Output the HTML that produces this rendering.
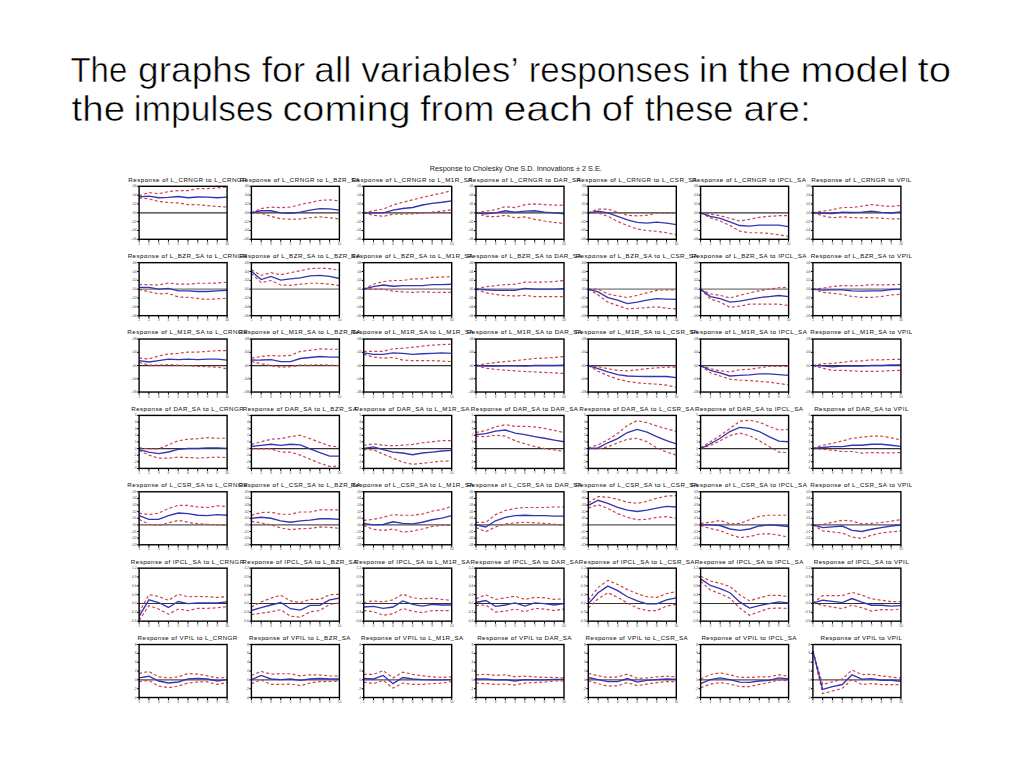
<!DOCTYPE html><html><head><meta charset="utf-8"><style>html,body{margin:0;padding:0;background:#fff;width:1024px;height:768px;overflow:hidden}svg{display:block}</style></head><body>
<svg width="1024" height="768" viewBox="0 0 1024 768">
<rect width="1024" height="768" fill="#fff"/>
<g font-family="Liberation Sans, sans-serif" fill="#000" font-size="34.5" stroke="#fff" stroke-width="0.55">
<text x="70.43" y="81.6" textLength="56.85" lengthAdjust="spacingAndGlyphs">The</text>
<text x="138.10" y="81.6" textLength="113.29" lengthAdjust="spacingAndGlyphs">graphs</text>
<text x="261.66" y="81.6" textLength="43.65" lengthAdjust="spacingAndGlyphs">for</text>
<text x="314.28" y="81.6" textLength="37.21" lengthAdjust="spacingAndGlyphs">all</text>
<text x="361.19" y="81.6" textLength="157.51" lengthAdjust="spacingAndGlyphs">variables’</text>
<text x="528.67" y="81.6" textLength="161.22" lengthAdjust="spacingAndGlyphs">responses</text>
<text x="698.73" y="81.6" textLength="29.98" lengthAdjust="spacingAndGlyphs">in</text>
<text x="737.84" y="81.6" textLength="53.28" lengthAdjust="spacingAndGlyphs">the</text>
<text x="800.56" y="81.6" textLength="107.94" lengthAdjust="spacingAndGlyphs">model</text>
<text x="917.52" y="81.6" textLength="33.50" lengthAdjust="spacingAndGlyphs">to</text>
<text x="71.64" y="121.4" textLength="53.49" lengthAdjust="spacingAndGlyphs">the</text>
<text x="133.84" y="121.4" textLength="139.41" lengthAdjust="spacingAndGlyphs">impulses</text>
<text x="282.47" y="121.4" textLength="128.18" lengthAdjust="spacingAndGlyphs">coming</text>
<text x="420.26" y="121.4" textLength="74.10" lengthAdjust="spacingAndGlyphs">from</text>
<text x="503.41" y="121.4" textLength="89.35" lengthAdjust="spacingAndGlyphs">each</text>
<text x="601.65" y="121.4" textLength="31.82" lengthAdjust="spacingAndGlyphs">of</text>
<text x="644.67" y="121.4" textLength="88.91" lengthAdjust="spacingAndGlyphs">these</text>
<text x="743.50" y="121.4" textLength="67.26" lengthAdjust="spacingAndGlyphs">are:</text>
</g>
<text x="429.8" y="171" font-family="Liberation Sans, sans-serif" font-size="7" fill="#222" textLength="172" lengthAdjust="spacingAndGlyphs">Response to Cholesky One S.D. Innovations ± 2 S.E.</text>
<text x="128.26" y="181.7" font-family="Liberation Sans, sans-serif" font-size="6.2" fill="#1a1a1a" stroke="#1a1a1a" stroke-width="0.05" textLength="118.38" lengthAdjust="spacing">Response of L_CRNGR to L_CRNGR</text>
<path d="M139.1 186.3h-2M139.1 195.13h-2M139.1 203.97h-2M139.1 212.8h-2M139.1 221.63h-2M139.1 230.47h-2M139.1 239.3h-2M139.1 239.3v2.5M148.88 239.3v2.5M158.66 239.3v2.5M168.43 239.3v2.5M178.21 239.3v2.5M187.99 239.3v2.5M197.77 239.3v2.5M207.54 239.3v2.5M217.32 239.3v2.5M227.1 239.3v2.5" stroke="#000" stroke-width="1" fill="none"/>
<g font-family="Liberation Sans, sans-serif" font-size="3.4" fill="#4a4a4a">
<text x="136.6" y="187.3" text-anchor="end">.06</text>
<text x="136.6" y="196.13" text-anchor="end">.04</text>
<text x="136.6" y="204.97" text-anchor="end">.02</text>
<text x="136.6" y="213.8" text-anchor="end">.00</text>
<text x="136.6" y="222.63" text-anchor="end">-.02</text>
<text x="136.6" y="231.47" text-anchor="end">-.04</text>
<text x="136.6" y="240.3" text-anchor="end">-.06</text>
<text x="139.1" y="244.8" text-anchor="middle">1</text>
<text x="148.88" y="244.8" text-anchor="middle">2</text>
<text x="158.66" y="244.8" text-anchor="middle">3</text>
<text x="168.43" y="244.8" text-anchor="middle">4</text>
<text x="178.21" y="244.8" text-anchor="middle">5</text>
<text x="187.99" y="244.8" text-anchor="middle">6</text>
<text x="197.77" y="244.8" text-anchor="middle">7</text>
<text x="207.54" y="244.8" text-anchor="middle">8</text>
<text x="217.32" y="244.8" text-anchor="middle">9</text>
<text x="227.1" y="244.8" text-anchor="middle">10</text>
</g>
<path d="M139.1 212.8H227.1" stroke="#333" stroke-width="1.2"/>
<path d="M139.1 195.75 L148.88 192.66 L158.66 193.72 L168.43 191.6 L178.21 190.63 L187.99 190.63 L197.77 188.6 L207.54 188.6 L217.32 187.98 L227.1 187.09" stroke="#cc4450" stroke-width="1.2" fill="none" stroke-dasharray="3 2.3"/>
<path d="M139.1 197.78 L148.88 198.84 L158.66 201.49 L168.43 202.55 L178.21 202.91 L187.99 204.59 L197.77 204.76 L207.54 205.65 L217.32 206.44 L227.1 207.06" stroke="#cc4450" stroke-width="1.2" fill="none" stroke-dasharray="3 2.3"/>
<path d="M139.1 196.81 L148.88 196.19 L158.66 197.78 L168.43 197.43 L178.21 196.55 L187.99 197.78 L197.77 196.99 L207.54 197.17 L217.32 197.78 L227.1 197.17" stroke="#3434b4" stroke-width="1.35" fill="none"/>
<rect x="139.1" y="186.3" width="88" height="53" fill="none" stroke="#000" stroke-width="1.4"/>
<text x="239.77" y="181.7" font-family="Liberation Sans, sans-serif" font-size="6.2" fill="#1a1a1a" stroke="#1a1a1a" stroke-width="0.05" textLength="119.95" lengthAdjust="spacing">Response of L_CRNGR to L_BZR_SA</text>
<path d="M251.4 186.3h-2M251.4 195.13h-2M251.4 203.97h-2M251.4 212.8h-2M251.4 221.63h-2M251.4 230.47h-2M251.4 239.3h-2M251.4 239.3v2.5M261.18 239.3v2.5M270.96 239.3v2.5M280.73 239.3v2.5M290.51 239.3v2.5M300.29 239.3v2.5M310.07 239.3v2.5M319.84 239.3v2.5M329.62 239.3v2.5M339.4 239.3v2.5" stroke="#000" stroke-width="1" fill="none"/>
<g font-family="Liberation Sans, sans-serif" font-size="3.4" fill="#4a4a4a">
<text x="248.9" y="187.3" text-anchor="end">.06</text>
<text x="248.9" y="196.13" text-anchor="end">.04</text>
<text x="248.9" y="204.97" text-anchor="end">.02</text>
<text x="248.9" y="213.8" text-anchor="end">.00</text>
<text x="248.9" y="222.63" text-anchor="end">-.02</text>
<text x="248.9" y="231.47" text-anchor="end">-.04</text>
<text x="248.9" y="240.3" text-anchor="end">-.06</text>
<text x="251.4" y="244.8" text-anchor="middle">1</text>
<text x="261.18" y="244.8" text-anchor="middle">2</text>
<text x="270.96" y="244.8" text-anchor="middle">3</text>
<text x="280.73" y="244.8" text-anchor="middle">4</text>
<text x="290.51" y="244.8" text-anchor="middle">5</text>
<text x="300.29" y="244.8" text-anchor="middle">6</text>
<text x="310.07" y="244.8" text-anchor="middle">7</text>
<text x="319.84" y="244.8" text-anchor="middle">8</text>
<text x="329.62" y="244.8" text-anchor="middle">9</text>
<text x="339.4" y="244.8" text-anchor="middle">10</text>
</g>
<path d="M251.4 212.8H339.4" stroke="#333" stroke-width="1.2"/>
<path d="M251.4 212.8 L261.18 208.47 L270.96 207.06 L280.73 207.68 L290.51 207.06 L300.29 204.59 L310.07 202.55 L319.84 200.43 L329.62 199.81 L339.4 200.88" stroke="#cc4450" stroke-width="1.2" fill="none" stroke-dasharray="3 2.3"/>
<path d="M251.4 212.8 L261.18 213.24 L270.96 216.33 L280.73 218.72 L290.51 219.34 L300.29 218.98 L310.07 217.75 L319.84 216.95 L329.62 217.75 L339.4 218.98" stroke="#cc4450" stroke-width="1.2" fill="none" stroke-dasharray="3 2.3"/>
<path d="M251.4 212.8 L261.18 210.77 L270.96 210.77 L280.73 212.8 L290.51 213.24 L300.29 212.18 L310.07 210.15 L319.84 208.65 L329.62 208.91 L339.4 210.15" stroke="#3434b4" stroke-width="1.35" fill="none"/>
<rect x="251.4" y="186.3" width="88" height="53" fill="none" stroke="#000" stroke-width="1.4"/>
<text x="351.68" y="181.7" font-family="Liberation Sans, sans-serif" font-size="6.2" fill="#1a1a1a" stroke="#1a1a1a" stroke-width="0.05" textLength="120.73" lengthAdjust="spacing">Response of L_CRNGR to L_M1R_SA</text>
<path d="M363.7 186.3h-2M363.7 195.13h-2M363.7 203.97h-2M363.7 212.8h-2M363.7 221.63h-2M363.7 230.47h-2M363.7 239.3h-2M363.7 239.3v2.5M373.48 239.3v2.5M383.26 239.3v2.5M393.03 239.3v2.5M402.81 239.3v2.5M412.59 239.3v2.5M422.37 239.3v2.5M432.14 239.3v2.5M441.92 239.3v2.5M451.7 239.3v2.5" stroke="#000" stroke-width="1" fill="none"/>
<g font-family="Liberation Sans, sans-serif" font-size="3.4" fill="#4a4a4a">
<text x="361.2" y="187.3" text-anchor="end">.06</text>
<text x="361.2" y="196.13" text-anchor="end">.04</text>
<text x="361.2" y="204.97" text-anchor="end">.02</text>
<text x="361.2" y="213.8" text-anchor="end">.00</text>
<text x="361.2" y="222.63" text-anchor="end">-.02</text>
<text x="361.2" y="231.47" text-anchor="end">-.04</text>
<text x="361.2" y="240.3" text-anchor="end">-.06</text>
<text x="363.7" y="244.8" text-anchor="middle">1</text>
<text x="373.48" y="244.8" text-anchor="middle">2</text>
<text x="383.26" y="244.8" text-anchor="middle">3</text>
<text x="393.03" y="244.8" text-anchor="middle">4</text>
<text x="402.81" y="244.8" text-anchor="middle">5</text>
<text x="412.59" y="244.8" text-anchor="middle">6</text>
<text x="422.37" y="244.8" text-anchor="middle">7</text>
<text x="432.14" y="244.8" text-anchor="middle">8</text>
<text x="441.92" y="244.8" text-anchor="middle">9</text>
<text x="451.7" y="244.8" text-anchor="middle">10</text>
</g>
<path d="M363.7 212.8H451.7" stroke="#333" stroke-width="1.2"/>
<path d="M363.7 212.8 L373.48 210.77 L383.26 209.09 L393.03 205.03 L402.81 202.29 L412.59 199.81 L422.37 197.43 L432.14 195.13 L441.92 193.1 L451.7 190.63" stroke="#cc4450" stroke-width="1.2" fill="none" stroke-dasharray="3 2.3"/>
<path d="M363.7 212.8 L373.48 215.27 L383.26 216.33 L393.03 214.21 L402.81 214.21 L412.59 213.86 L422.37 213.24 L432.14 212.18 L441.92 211.12 L451.7 209.71" stroke="#cc4450" stroke-width="1.2" fill="none" stroke-dasharray="3 2.3"/>
<path d="M363.7 212.8 L373.48 212.8 L383.26 212.8 L393.03 210.15 L402.81 208.47 L412.59 207.5 L422.37 205.03 L432.14 203.35 L441.92 202.29 L451.7 200.88" stroke="#3434b4" stroke-width="1.35" fill="none"/>
<rect x="363.7" y="186.3" width="88" height="53" fill="none" stroke="#000" stroke-width="1.4"/>
<text x="467.89" y="181.7" font-family="Liberation Sans, sans-serif" font-size="6.2" fill="#1a1a1a" stroke="#1a1a1a" stroke-width="0.05" textLength="112.92" lengthAdjust="spacing">Response of L_CRNGR to DAR_SA</text>
<path d="M476 186.3h-2M476 195.13h-2M476 203.97h-2M476 212.8h-2M476 221.63h-2M476 230.47h-2M476 239.3h-2M476 239.3v2.5M485.78 239.3v2.5M495.56 239.3v2.5M505.33 239.3v2.5M515.11 239.3v2.5M524.89 239.3v2.5M534.67 239.3v2.5M544.44 239.3v2.5M554.22 239.3v2.5M564 239.3v2.5" stroke="#000" stroke-width="1" fill="none"/>
<g font-family="Liberation Sans, sans-serif" font-size="3.4" fill="#4a4a4a">
<text x="473.5" y="187.3" text-anchor="end">.06</text>
<text x="473.5" y="196.13" text-anchor="end">.04</text>
<text x="473.5" y="204.97" text-anchor="end">.02</text>
<text x="473.5" y="213.8" text-anchor="end">.00</text>
<text x="473.5" y="222.63" text-anchor="end">-.02</text>
<text x="473.5" y="231.47" text-anchor="end">-.04</text>
<text x="473.5" y="240.3" text-anchor="end">-.06</text>
<text x="476" y="244.8" text-anchor="middle">1</text>
<text x="485.78" y="244.8" text-anchor="middle">2</text>
<text x="495.56" y="244.8" text-anchor="middle">3</text>
<text x="505.33" y="244.8" text-anchor="middle">4</text>
<text x="515.11" y="244.8" text-anchor="middle">5</text>
<text x="524.89" y="244.8" text-anchor="middle">6</text>
<text x="534.67" y="244.8" text-anchor="middle">7</text>
<text x="544.44" y="244.8" text-anchor="middle">8</text>
<text x="554.22" y="244.8" text-anchor="middle">9</text>
<text x="564" y="244.8" text-anchor="middle">10</text>
</g>
<path d="M476 212.8H564" stroke="#333" stroke-width="1.2"/>
<path d="M476 212.8 L485.78 211.12 L495.56 209.71 L505.33 206.62 L515.11 207.68 L524.89 204.59 L534.67 203.97 L544.44 204.59 L554.22 205.03 L564 205.03" stroke="#cc4450" stroke-width="1.2" fill="none" stroke-dasharray="3 2.3"/>
<path d="M476 212.8 L485.78 216.33 L495.56 216.69 L505.33 215.27 L515.11 217.75 L524.89 216.95 L534.67 219.34 L544.44 221.02 L554.22 222.43 L564 223.49" stroke="#cc4450" stroke-width="1.2" fill="none" stroke-dasharray="3 2.3"/>
<path d="M476 212.8 L485.78 213.86 L495.56 212.8 L505.33 210.77 L515.11 212.18 L524.89 211.12 L534.67 210.77 L544.44 212.18 L554.22 212.8 L564 213.86" stroke="#3434b4" stroke-width="1.35" fill="none"/>
<rect x="476" y="186.3" width="88" height="53" fill="none" stroke="#000" stroke-width="1.4"/>
<text x="576.28" y="181.7" font-family="Liberation Sans, sans-serif" font-size="6.2" fill="#1a1a1a" stroke="#1a1a1a" stroke-width="0.05" textLength="120.73" lengthAdjust="spacing">Response of L_CRNGR to L_CSR_SA</text>
<path d="M588.3 186.3h-2M588.3 195.13h-2M588.3 203.97h-2M588.3 212.8h-2M588.3 221.63h-2M588.3 230.47h-2M588.3 239.3h-2M588.3 239.3v2.5M598.08 239.3v2.5M607.86 239.3v2.5M617.63 239.3v2.5M627.41 239.3v2.5M637.19 239.3v2.5M646.97 239.3v2.5M656.74 239.3v2.5M666.52 239.3v2.5M676.3 239.3v2.5" stroke="#000" stroke-width="1" fill="none"/>
<g font-family="Liberation Sans, sans-serif" font-size="3.4" fill="#4a4a4a">
<text x="585.8" y="187.3" text-anchor="end">.06</text>
<text x="585.8" y="196.13" text-anchor="end">.04</text>
<text x="585.8" y="204.97" text-anchor="end">.02</text>
<text x="585.8" y="213.8" text-anchor="end">.00</text>
<text x="585.8" y="222.63" text-anchor="end">-.02</text>
<text x="585.8" y="231.47" text-anchor="end">-.04</text>
<text x="585.8" y="240.3" text-anchor="end">-.06</text>
<text x="588.3" y="244.8" text-anchor="middle">1</text>
<text x="598.08" y="244.8" text-anchor="middle">2</text>
<text x="607.86" y="244.8" text-anchor="middle">3</text>
<text x="617.63" y="244.8" text-anchor="middle">4</text>
<text x="627.41" y="244.8" text-anchor="middle">5</text>
<text x="637.19" y="244.8" text-anchor="middle">6</text>
<text x="646.97" y="244.8" text-anchor="middle">7</text>
<text x="656.74" y="244.8" text-anchor="middle">8</text>
<text x="666.52" y="244.8" text-anchor="middle">9</text>
<text x="676.3" y="244.8" text-anchor="middle">10</text>
</g>
<path d="M588.3 212.8H676.3" stroke="#333" stroke-width="1.2"/>
<path d="M588.3 212.8 L598.08 209.09 L607.86 209.09 L617.63 212.18 L627.41 215.27 L637.19 215.89 L646.97 215.27 L656.74 213.24 L666.52 213.24 L676.3 213.24" stroke="#cc4450" stroke-width="1.2" fill="none" stroke-dasharray="3 2.3"/>
<path d="M588.3 212.8 L598.08 212.8 L607.86 216.33 L617.63 221.46 L627.41 225.52 L637.19 229.05 L646.97 230.64 L656.74 231.26 L666.52 232.76 L676.3 234.8" stroke="#cc4450" stroke-width="1.2" fill="none" stroke-dasharray="3 2.3"/>
<path d="M588.3 212.8 L598.08 211.12 L607.86 212.8 L617.63 216.33 L627.41 219.96 L637.19 222.43 L646.97 223.05 L656.74 222.08 L666.52 223.05 L676.3 224.55" stroke="#3434b4" stroke-width="1.35" fill="none"/>
<rect x="588.3" y="186.3" width="88" height="53" fill="none" stroke="#000" stroke-width="1.4"/>
<text x="692.1" y="181.7" font-family="Liberation Sans, sans-serif" font-size="6.2" fill="#1a1a1a" stroke="#1a1a1a" stroke-width="0.05" textLength="113.7" lengthAdjust="spacing">Response of L_CRNGR to IPCL_SA</text>
<path d="M700.6 186.3h-2M700.6 195.13h-2M700.6 203.97h-2M700.6 212.8h-2M700.6 221.63h-2M700.6 230.47h-2M700.6 239.3h-2M700.6 239.3v2.5M710.38 239.3v2.5M720.16 239.3v2.5M729.93 239.3v2.5M739.71 239.3v2.5M749.49 239.3v2.5M759.27 239.3v2.5M769.04 239.3v2.5M778.82 239.3v2.5M788.6 239.3v2.5" stroke="#000" stroke-width="1" fill="none"/>
<g font-family="Liberation Sans, sans-serif" font-size="3.4" fill="#4a4a4a">
<text x="698.1" y="187.3" text-anchor="end">.06</text>
<text x="698.1" y="196.13" text-anchor="end">.04</text>
<text x="698.1" y="204.97" text-anchor="end">.02</text>
<text x="698.1" y="213.8" text-anchor="end">.00</text>
<text x="698.1" y="222.63" text-anchor="end">-.02</text>
<text x="698.1" y="231.47" text-anchor="end">-.04</text>
<text x="698.1" y="240.3" text-anchor="end">-.06</text>
<text x="700.6" y="244.8" text-anchor="middle">1</text>
<text x="710.38" y="244.8" text-anchor="middle">2</text>
<text x="720.16" y="244.8" text-anchor="middle">3</text>
<text x="729.93" y="244.8" text-anchor="middle">4</text>
<text x="739.71" y="244.8" text-anchor="middle">5</text>
<text x="749.49" y="244.8" text-anchor="middle">6</text>
<text x="759.27" y="244.8" text-anchor="middle">7</text>
<text x="769.04" y="244.8" text-anchor="middle">8</text>
<text x="778.82" y="244.8" text-anchor="middle">9</text>
<text x="788.6" y="244.8" text-anchor="middle">10</text>
</g>
<path d="M700.6 212.8H788.6" stroke="#333" stroke-width="1.2"/>
<path d="M700.6 212.8 L710.38 214.21 L720.16 215.72 L729.93 218.37 L739.71 221.02 L749.49 219.34 L759.27 217.31 L769.04 216.33 L778.82 215.72 L788.6 215.72" stroke="#cc4450" stroke-width="1.2" fill="none" stroke-dasharray="3 2.3"/>
<path d="M700.6 212.8 L710.38 217.92 L720.16 221.02 L729.93 225.52 L739.71 231.09 L749.49 232.76 L759.27 232.76 L769.04 233.38 L778.82 234.8 L788.6 236.39" stroke="#cc4450" stroke-width="1.2" fill="none" stroke-dasharray="3 2.3"/>
<path d="M700.6 212.8 L710.38 216.33 L720.16 218.37 L729.93 221.81 L739.71 225.52 L749.49 226.14 L759.27 225.17 L769.04 225.17 L778.82 225.17 L788.6 226.58" stroke="#3434b4" stroke-width="1.35" fill="none"/>
<rect x="700.6" y="186.3" width="88" height="53" fill="none" stroke="#000" stroke-width="1.4"/>
<text x="811.24" y="181.7" font-family="Liberation Sans, sans-serif" font-size="6.2" fill="#1a1a1a" stroke="#1a1a1a" stroke-width="0.05" textLength="100.03" lengthAdjust="spacing">Response of L_CRNGR to VPIL</text>
<path d="M812.9 186.3h-2M812.9 195.13h-2M812.9 203.97h-2M812.9 212.8h-2M812.9 221.63h-2M812.9 230.47h-2M812.9 239.3h-2M812.9 239.3v2.5M822.68 239.3v2.5M832.46 239.3v2.5M842.23 239.3v2.5M852.01 239.3v2.5M861.79 239.3v2.5M871.57 239.3v2.5M881.34 239.3v2.5M891.12 239.3v2.5M900.9 239.3v2.5" stroke="#000" stroke-width="1" fill="none"/>
<g font-family="Liberation Sans, sans-serif" font-size="3.4" fill="#4a4a4a">
<text x="810.4" y="187.3" text-anchor="end">.06</text>
<text x="810.4" y="196.13" text-anchor="end">.04</text>
<text x="810.4" y="204.97" text-anchor="end">.02</text>
<text x="810.4" y="213.8" text-anchor="end">.00</text>
<text x="810.4" y="222.63" text-anchor="end">-.02</text>
<text x="810.4" y="231.47" text-anchor="end">-.04</text>
<text x="810.4" y="240.3" text-anchor="end">-.06</text>
<text x="812.9" y="244.8" text-anchor="middle">1</text>
<text x="822.68" y="244.8" text-anchor="middle">2</text>
<text x="832.46" y="244.8" text-anchor="middle">3</text>
<text x="842.23" y="244.8" text-anchor="middle">4</text>
<text x="852.01" y="244.8" text-anchor="middle">5</text>
<text x="861.79" y="244.8" text-anchor="middle">6</text>
<text x="871.57" y="244.8" text-anchor="middle">7</text>
<text x="881.34" y="244.8" text-anchor="middle">8</text>
<text x="891.12" y="244.8" text-anchor="middle">9</text>
<text x="900.9" y="244.8" text-anchor="middle">10</text>
</g>
<path d="M812.9 212.8H900.9" stroke="#333" stroke-width="1.2"/>
<path d="M812.9 212.71 L822.68 211.12 L832.46 209.71 L842.23 207.5 L852.01 207.5 L861.79 206.18 L871.57 204.59 L881.34 205.65 L891.12 206.44 L900.9 205.38" stroke="#cc4450" stroke-width="1.2" fill="none" stroke-dasharray="3 2.3"/>
<path d="M812.9 212.71 L822.68 215.72 L832.46 217.84 L842.23 216.78 L852.01 217.66 L861.79 217.84 L871.57 217.66 L881.34 218.1 L891.12 218.9 L900.9 218.72" stroke="#cc4450" stroke-width="1.2" fill="none" stroke-dasharray="3 2.3"/>
<path d="M812.9 212.71 L822.68 213.24 L832.46 213.51 L842.23 212.18 L852.01 212.45 L861.79 212.18 L871.57 211.12 L881.34 212.45 L891.12 212.98 L900.9 211.83" stroke="#3434b4" stroke-width="1.35" fill="none"/>
<rect x="812.9" y="186.3" width="88" height="53" fill="none" stroke="#000" stroke-width="1.4"/>
<text x="127.67" y="258.07" font-family="Liberation Sans, sans-serif" font-size="6.2" fill="#1a1a1a" stroke="#1a1a1a" stroke-width="0.05" textLength="119.56" lengthAdjust="spacing">Response of L_BZR_SA to L_CRNGR</text>
<path d="M139.1 262.67h-2M139.1 271.5h-2M139.1 280.34h-2M139.1 289.17h-2M139.1 298h-2M139.1 306.84h-2M139.1 315.67h-2M139.1 315.67v2.5M148.88 315.67v2.5M158.66 315.67v2.5M168.43 315.67v2.5M178.21 315.67v2.5M187.99 315.67v2.5M197.77 315.67v2.5M207.54 315.67v2.5M217.32 315.67v2.5M227.1 315.67v2.5" stroke="#000" stroke-width="1" fill="none"/>
<g font-family="Liberation Sans, sans-serif" font-size="3.4" fill="#4a4a4a">
<text x="136.6" y="263.67" text-anchor="end">.06</text>
<text x="136.6" y="272.5" text-anchor="end">.04</text>
<text x="136.6" y="281.34" text-anchor="end">.02</text>
<text x="136.6" y="290.17" text-anchor="end">.00</text>
<text x="136.6" y="299" text-anchor="end">-.02</text>
<text x="136.6" y="307.84" text-anchor="end">-.04</text>
<text x="136.6" y="316.67" text-anchor="end">-.06</text>
<text x="139.1" y="321.17" text-anchor="middle">1</text>
<text x="148.88" y="321.17" text-anchor="middle">2</text>
<text x="158.66" y="321.17" text-anchor="middle">3</text>
<text x="168.43" y="321.17" text-anchor="middle">4</text>
<text x="178.21" y="321.17" text-anchor="middle">5</text>
<text x="187.99" y="321.17" text-anchor="middle">6</text>
<text x="197.77" y="321.17" text-anchor="middle">7</text>
<text x="207.54" y="321.17" text-anchor="middle">8</text>
<text x="217.32" y="321.17" text-anchor="middle">9</text>
<text x="227.1" y="321.17" text-anchor="middle">10</text>
</g>
<path d="M139.1 289.17H227.1" stroke="#9c9c9c" stroke-width="1.9"/>
<path d="M139.1 284.67 L148.88 284.67 L158.66 285.02 L168.43 282.99 L178.21 284.22 L187.99 284.22 L197.77 283.25 L207.54 283.25 L217.32 282.99 L227.1 282.19" stroke="#cc4450" stroke-width="1.2" fill="none" stroke-dasharray="3 2.3"/>
<path d="M139.1 289.35 L148.88 291.82 L158.66 293.85 L168.43 293.32 L178.21 296.94 L187.99 297.38 L197.77 298.44 L207.54 299.42 L217.32 298.62 L227.1 298.44" stroke="#cc4450" stroke-width="1.2" fill="none" stroke-dasharray="3 2.3"/>
<path d="M139.1 287.31 L148.88 287.31 L158.66 289.17 L168.43 288.38 L178.21 290.85 L187.99 290.85 L197.77 291.47 L207.54 291.47 L217.32 290.85 L227.1 290.23" stroke="#3434b4" stroke-width="1.35" fill="none"/>
<rect x="139.1" y="262.67" width="88" height="53" fill="none" stroke="#000" stroke-width="1.4"/>
<text x="239.18" y="258.07" font-family="Liberation Sans, sans-serif" font-size="6.2" fill="#1a1a1a" stroke="#1a1a1a" stroke-width="0.05" textLength="121.14" lengthAdjust="spacing">Response of L_BZR_SA to L_BZR_SA</text>
<path d="M251.4 262.67h-2M251.4 271.5h-2M251.4 280.34h-2M251.4 289.17h-2M251.4 298h-2M251.4 306.84h-2M251.4 315.67h-2M251.4 315.67v2.5M261.18 315.67v2.5M270.96 315.67v2.5M280.73 315.67v2.5M290.51 315.67v2.5M300.29 315.67v2.5M310.07 315.67v2.5M319.84 315.67v2.5M329.62 315.67v2.5M339.4 315.67v2.5" stroke="#000" stroke-width="1" fill="none"/>
<g font-family="Liberation Sans, sans-serif" font-size="3.4" fill="#4a4a4a">
<text x="248.9" y="263.67" text-anchor="end">.06</text>
<text x="248.9" y="272.5" text-anchor="end">.04</text>
<text x="248.9" y="281.34" text-anchor="end">.02</text>
<text x="248.9" y="290.17" text-anchor="end">.00</text>
<text x="248.9" y="299" text-anchor="end">-.02</text>
<text x="248.9" y="307.84" text-anchor="end">-.04</text>
<text x="248.9" y="316.67" text-anchor="end">-.06</text>
<text x="251.4" y="321.17" text-anchor="middle">1</text>
<text x="261.18" y="321.17" text-anchor="middle">2</text>
<text x="270.96" y="321.17" text-anchor="middle">3</text>
<text x="280.73" y="321.17" text-anchor="middle">4</text>
<text x="290.51" y="321.17" text-anchor="middle">5</text>
<text x="300.29" y="321.17" text-anchor="middle">6</text>
<text x="310.07" y="321.17" text-anchor="middle">7</text>
<text x="319.84" y="321.17" text-anchor="middle">8</text>
<text x="329.62" y="321.17" text-anchor="middle">9</text>
<text x="339.4" y="321.17" text-anchor="middle">10</text>
</g>
<path d="M251.4 289.17H339.4" stroke="#9c9c9c" stroke-width="1.9"/>
<path d="M251.4 269.82 L261.18 275.39 L270.96 272.74 L280.73 274.77 L290.51 272.74 L300.29 270.71 L310.07 268.59 L319.84 268.24 L329.62 268.59 L339.4 270.27" stroke="#cc4450" stroke-width="1.2" fill="none" stroke-dasharray="3 2.3"/>
<path d="M251.4 273.36 L261.18 282.63 L270.96 280.51 L280.73 285.02 L290.51 285.28 L300.29 284.22 L310.07 283.25 L319.84 283.25 L329.62 284.22 L339.4 285.64" stroke="#cc4450" stroke-width="1.2" fill="none" stroke-dasharray="3 2.3"/>
<path d="M251.4 271.33 L261.18 279.54 L270.96 276.45 L280.73 280.16 L290.51 278.92 L300.29 277.86 L310.07 275.83 L319.84 275.39 L329.62 276.45 L339.4 278.48" stroke="#3434b4" stroke-width="1.35" fill="none"/>
<rect x="251.4" y="262.67" width="88" height="53" fill="none" stroke="#000" stroke-width="1.4"/>
<text x="351.09" y="258.07" font-family="Liberation Sans, sans-serif" font-size="6.2" fill="#1a1a1a" stroke="#1a1a1a" stroke-width="0.05" textLength="121.92" lengthAdjust="spacing">Response of L_BZR_SA to L_M1R_SA</text>
<path d="M363.7 262.67h-2M363.7 271.5h-2M363.7 280.34h-2M363.7 289.17h-2M363.7 298h-2M363.7 306.84h-2M363.7 315.67h-2M363.7 315.67v2.5M373.48 315.67v2.5M383.26 315.67v2.5M393.03 315.67v2.5M402.81 315.67v2.5M412.59 315.67v2.5M422.37 315.67v2.5M432.14 315.67v2.5M441.92 315.67v2.5M451.7 315.67v2.5" stroke="#000" stroke-width="1" fill="none"/>
<g font-family="Liberation Sans, sans-serif" font-size="3.4" fill="#4a4a4a">
<text x="361.2" y="263.67" text-anchor="end">.06</text>
<text x="361.2" y="272.5" text-anchor="end">.04</text>
<text x="361.2" y="281.34" text-anchor="end">.02</text>
<text x="361.2" y="290.17" text-anchor="end">.00</text>
<text x="361.2" y="299" text-anchor="end">-.02</text>
<text x="361.2" y="307.84" text-anchor="end">-.04</text>
<text x="361.2" y="316.67" text-anchor="end">-.06</text>
<text x="363.7" y="321.17" text-anchor="middle">1</text>
<text x="373.48" y="321.17" text-anchor="middle">2</text>
<text x="383.26" y="321.17" text-anchor="middle">3</text>
<text x="393.03" y="321.17" text-anchor="middle">4</text>
<text x="402.81" y="321.17" text-anchor="middle">5</text>
<text x="412.59" y="321.17" text-anchor="middle">6</text>
<text x="422.37" y="321.17" text-anchor="middle">7</text>
<text x="432.14" y="321.17" text-anchor="middle">8</text>
<text x="441.92" y="321.17" text-anchor="middle">9</text>
<text x="451.7" y="321.17" text-anchor="middle">10</text>
</g>
<path d="M363.7 289.17H451.7" stroke="#9c9c9c" stroke-width="1.9"/>
<path d="M363.7 289.17 L373.48 284.22 L383.26 281.57 L393.03 280.51 L402.81 280.51 L412.59 278.92 L422.37 278.92 L432.14 277.42 L441.92 277.07 L451.7 276.45" stroke="#cc4450" stroke-width="1.2" fill="none" stroke-dasharray="3 2.3"/>
<path d="M363.7 289.17 L373.48 289.17 L383.26 289.17 L393.03 291.2 L402.81 291.82 L412.59 292.44 L422.37 291.82 L432.14 292.26 L441.92 292.44 L451.7 292.44" stroke="#cc4450" stroke-width="1.2" fill="none" stroke-dasharray="3 2.3"/>
<path d="M363.7 289.17 L373.48 286.7 L383.26 285.02 L393.03 286.25 L402.81 285.64 L412.59 285.64 L422.37 285.64 L432.14 284.67 L441.92 284.67 L451.7 284.22" stroke="#3434b4" stroke-width="1.35" fill="none"/>
<rect x="363.7" y="262.67" width="88" height="53" fill="none" stroke="#000" stroke-width="1.4"/>
<text x="467.3" y="258.07" font-family="Liberation Sans, sans-serif" font-size="6.2" fill="#1a1a1a" stroke="#1a1a1a" stroke-width="0.05" textLength="114.1" lengthAdjust="spacing">Response of L_BZR_SA to DAR_SA</text>
<path d="M476 262.67h-2M476 271.5h-2M476 280.34h-2M476 289.17h-2M476 298h-2M476 306.84h-2M476 315.67h-2M476 315.67v2.5M485.78 315.67v2.5M495.56 315.67v2.5M505.33 315.67v2.5M515.11 315.67v2.5M524.89 315.67v2.5M534.67 315.67v2.5M544.44 315.67v2.5M554.22 315.67v2.5M564 315.67v2.5" stroke="#000" stroke-width="1" fill="none"/>
<g font-family="Liberation Sans, sans-serif" font-size="3.4" fill="#4a4a4a">
<text x="473.5" y="263.67" text-anchor="end">.06</text>
<text x="473.5" y="272.5" text-anchor="end">.04</text>
<text x="473.5" y="281.34" text-anchor="end">.02</text>
<text x="473.5" y="290.17" text-anchor="end">.00</text>
<text x="473.5" y="299" text-anchor="end">-.02</text>
<text x="473.5" y="307.84" text-anchor="end">-.04</text>
<text x="473.5" y="316.67" text-anchor="end">-.06</text>
<text x="476" y="321.17" text-anchor="middle">1</text>
<text x="485.78" y="321.17" text-anchor="middle">2</text>
<text x="495.56" y="321.17" text-anchor="middle">3</text>
<text x="505.33" y="321.17" text-anchor="middle">4</text>
<text x="515.11" y="321.17" text-anchor="middle">5</text>
<text x="524.89" y="321.17" text-anchor="middle">6</text>
<text x="534.67" y="321.17" text-anchor="middle">7</text>
<text x="544.44" y="321.17" text-anchor="middle">8</text>
<text x="554.22" y="321.17" text-anchor="middle">9</text>
<text x="564" y="321.17" text-anchor="middle">10</text>
</g>
<path d="M476 289.17H564" stroke="#9c9c9c" stroke-width="1.9"/>
<path d="M476 289.17 L485.78 286.7 L495.56 285.64 L505.33 284.67 L515.11 284.22 L524.89 282.19 L534.67 282.19 L544.44 282.01 L554.22 281.57 L564 280.51" stroke="#cc4450" stroke-width="1.2" fill="none" stroke-dasharray="3 2.3"/>
<path d="M476 289.17 L485.78 292.88 L495.56 294.47 L505.33 295.53 L515.11 295.97 L524.89 295.35 L534.67 296.59 L544.44 296.59 L554.22 296.59 L564 296.59" stroke="#cc4450" stroke-width="1.2" fill="none" stroke-dasharray="3 2.3"/>
<path d="M476 289.17 L485.78 289.79 L495.56 290.41 L505.33 290.41 L515.11 290.41 L524.89 288.38 L534.67 289.17 L544.44 289.17 L554.22 289.17 L564 288.73" stroke="#3434b4" stroke-width="1.35" fill="none"/>
<rect x="476" y="262.67" width="88" height="53" fill="none" stroke="#000" stroke-width="1.4"/>
<text x="575.69" y="258.07" font-family="Liberation Sans, sans-serif" font-size="6.2" fill="#1a1a1a" stroke="#1a1a1a" stroke-width="0.05" textLength="121.92" lengthAdjust="spacing">Response of L_BZR_SA to L_CSR_SA</text>
<path d="M588.3 262.67h-2M588.3 271.5h-2M588.3 280.34h-2M588.3 289.17h-2M588.3 298h-2M588.3 306.84h-2M588.3 315.67h-2M588.3 315.67v2.5M598.08 315.67v2.5M607.86 315.67v2.5M617.63 315.67v2.5M627.41 315.67v2.5M637.19 315.67v2.5M646.97 315.67v2.5M656.74 315.67v2.5M666.52 315.67v2.5M676.3 315.67v2.5" stroke="#000" stroke-width="1" fill="none"/>
<g font-family="Liberation Sans, sans-serif" font-size="3.4" fill="#4a4a4a">
<text x="585.8" y="263.67" text-anchor="end">.06</text>
<text x="585.8" y="272.5" text-anchor="end">.04</text>
<text x="585.8" y="281.34" text-anchor="end">.02</text>
<text x="585.8" y="290.17" text-anchor="end">.00</text>
<text x="585.8" y="299" text-anchor="end">-.02</text>
<text x="585.8" y="307.84" text-anchor="end">-.04</text>
<text x="585.8" y="316.67" text-anchor="end">-.06</text>
<text x="588.3" y="321.17" text-anchor="middle">1</text>
<text x="598.08" y="321.17" text-anchor="middle">2</text>
<text x="607.86" y="321.17" text-anchor="middle">3</text>
<text x="617.63" y="321.17" text-anchor="middle">4</text>
<text x="627.41" y="321.17" text-anchor="middle">5</text>
<text x="637.19" y="321.17" text-anchor="middle">6</text>
<text x="646.97" y="321.17" text-anchor="middle">7</text>
<text x="656.74" y="321.17" text-anchor="middle">8</text>
<text x="666.52" y="321.17" text-anchor="middle">9</text>
<text x="676.3" y="321.17" text-anchor="middle">10</text>
</g>
<path d="M588.3 289.17H676.3" stroke="#9c9c9c" stroke-width="1.9"/>
<path d="M588.3 289.17 L598.08 289.17 L607.86 293.85 L617.63 295.97 L627.41 297.56 L637.19 295.35 L646.97 292.88 L656.74 290.41 L666.52 289.79 L676.3 289.79" stroke="#cc4450" stroke-width="1.2" fill="none" stroke-dasharray="3 2.3"/>
<path d="M588.3 289.17 L598.08 294.91 L607.86 302.16 L617.63 305.6 L627.41 308.87 L637.19 308.25 L646.97 307.63 L656.74 306.84 L666.52 308.25 L676.3 308.87" stroke="#cc4450" stroke-width="1.2" fill="none" stroke-dasharray="3 2.3"/>
<path d="M588.3 289.17 L598.08 291.82 L607.86 297.56 L617.63 300.04 L627.41 303.57 L637.19 302.16 L646.97 300.04 L656.74 298.62 L666.52 299.06 L676.3 299.42" stroke="#3434b4" stroke-width="1.35" fill="none"/>
<rect x="588.3" y="262.67" width="88" height="53" fill="none" stroke="#000" stroke-width="1.4"/>
<text x="691.51" y="258.07" font-family="Liberation Sans, sans-serif" font-size="6.2" fill="#1a1a1a" stroke="#1a1a1a" stroke-width="0.05" textLength="114.89" lengthAdjust="spacing">Response of L_BZR_SA to IPCL_SA</text>
<path d="M700.6 262.67h-2M700.6 271.5h-2M700.6 280.34h-2M700.6 289.17h-2M700.6 298h-2M700.6 306.84h-2M700.6 315.67h-2M700.6 315.67v2.5M710.38 315.67v2.5M720.16 315.67v2.5M729.93 315.67v2.5M739.71 315.67v2.5M749.49 315.67v2.5M759.27 315.67v2.5M769.04 315.67v2.5M778.82 315.67v2.5M788.6 315.67v2.5" stroke="#000" stroke-width="1" fill="none"/>
<g font-family="Liberation Sans, sans-serif" font-size="3.4" fill="#4a4a4a">
<text x="698.1" y="263.67" text-anchor="end">.06</text>
<text x="698.1" y="272.5" text-anchor="end">.04</text>
<text x="698.1" y="281.34" text-anchor="end">.02</text>
<text x="698.1" y="290.17" text-anchor="end">.00</text>
<text x="698.1" y="299" text-anchor="end">-.02</text>
<text x="698.1" y="307.84" text-anchor="end">-.04</text>
<text x="698.1" y="316.67" text-anchor="end">-.06</text>
<text x="700.6" y="321.17" text-anchor="middle">1</text>
<text x="710.38" y="321.17" text-anchor="middle">2</text>
<text x="720.16" y="321.17" text-anchor="middle">3</text>
<text x="729.93" y="321.17" text-anchor="middle">4</text>
<text x="739.71" y="321.17" text-anchor="middle">5</text>
<text x="749.49" y="321.17" text-anchor="middle">6</text>
<text x="759.27" y="321.17" text-anchor="middle">7</text>
<text x="769.04" y="321.17" text-anchor="middle">8</text>
<text x="778.82" y="321.17" text-anchor="middle">9</text>
<text x="788.6" y="321.17" text-anchor="middle">10</text>
</g>
<path d="M700.6 289.17H788.6" stroke="#9c9c9c" stroke-width="1.9"/>
<path d="M700.6 289.17 L710.38 293.85 L720.16 295.35 L729.93 298 L739.71 295.35 L749.49 292.88 L759.27 290.85 L769.04 289.17 L778.82 287.76 L788.6 287.31" stroke="#cc4450" stroke-width="1.2" fill="none" stroke-dasharray="3 2.3"/>
<path d="M700.6 289.17 L710.38 299.06 L720.16 302.16 L729.93 307.28 L739.71 306.22 L749.49 304.19 L759.27 304.19 L769.04 304.19 L778.82 304.19 L788.6 305.6" stroke="#cc4450" stroke-width="1.2" fill="none" stroke-dasharray="3 2.3"/>
<path d="M700.6 289.17 L710.38 296.59 L720.16 298.62 L729.93 302.16 L739.71 301.1 L749.49 299.42 L759.27 297.56 L769.04 296.59 L778.82 295.53 L788.6 296.59" stroke="#3434b4" stroke-width="1.35" fill="none"/>
<rect x="700.6" y="262.67" width="88" height="53" fill="none" stroke="#000" stroke-width="1.4"/>
<text x="810.64" y="258.07" font-family="Liberation Sans, sans-serif" font-size="6.2" fill="#1a1a1a" stroke="#1a1a1a" stroke-width="0.05" textLength="101.21" lengthAdjust="spacing">Response of L_BZR_SA to VPIL</text>
<path d="M812.9 262.67h-2M812.9 271.5h-2M812.9 280.34h-2M812.9 289.17h-2M812.9 298h-2M812.9 306.84h-2M812.9 315.67h-2M812.9 315.67v2.5M822.68 315.67v2.5M832.46 315.67v2.5M842.23 315.67v2.5M852.01 315.67v2.5M861.79 315.67v2.5M871.57 315.67v2.5M881.34 315.67v2.5M891.12 315.67v2.5M900.9 315.67v2.5" stroke="#000" stroke-width="1" fill="none"/>
<g font-family="Liberation Sans, sans-serif" font-size="3.4" fill="#4a4a4a">
<text x="810.4" y="263.67" text-anchor="end">.06</text>
<text x="810.4" y="272.5" text-anchor="end">.04</text>
<text x="810.4" y="281.34" text-anchor="end">.02</text>
<text x="810.4" y="290.17" text-anchor="end">.00</text>
<text x="810.4" y="299" text-anchor="end">-.02</text>
<text x="810.4" y="307.84" text-anchor="end">-.04</text>
<text x="810.4" y="316.67" text-anchor="end">-.06</text>
<text x="812.9" y="321.17" text-anchor="middle">1</text>
<text x="822.68" y="321.17" text-anchor="middle">2</text>
<text x="832.46" y="321.17" text-anchor="middle">3</text>
<text x="842.23" y="321.17" text-anchor="middle">4</text>
<text x="852.01" y="321.17" text-anchor="middle">5</text>
<text x="861.79" y="321.17" text-anchor="middle">6</text>
<text x="871.57" y="321.17" text-anchor="middle">7</text>
<text x="881.34" y="321.17" text-anchor="middle">8</text>
<text x="891.12" y="321.17" text-anchor="middle">9</text>
<text x="900.9" y="321.17" text-anchor="middle">10</text>
</g>
<path d="M812.9 289.17H900.9" stroke="#9c9c9c" stroke-width="1.9"/>
<path d="M812.9 289.08 L822.68 288.11 L832.46 286.61 L842.23 285.55 L852.01 285.81 L861.79 285.55 L871.57 284.67 L881.34 284.93 L891.12 284.67 L900.9 284.4" stroke="#cc4450" stroke-width="1.2" fill="none" stroke-dasharray="3 2.3"/>
<path d="M812.9 289.08 L822.68 292.26 L832.46 293.32 L842.23 294.38 L852.01 296.5 L861.79 297.38 L871.57 297.38 L881.34 296.5 L891.12 294.91 L900.9 294.38" stroke="#cc4450" stroke-width="1.2" fill="none" stroke-dasharray="3 2.3"/>
<path d="M812.9 289.08 L822.68 290.05 L832.46 289.88 L842.23 289.88 L852.01 290.94 L861.79 291.11 L871.57 290.94 L881.34 290.94 L891.12 289.52 L900.9 289.08" stroke="#3434b4" stroke-width="1.35" fill="none"/>
<rect x="812.9" y="262.67" width="88" height="53" fill="none" stroke="#000" stroke-width="1.4"/>
<text x="127.28" y="334.44" font-family="Liberation Sans, sans-serif" font-size="6.2" fill="#1a1a1a" stroke="#1a1a1a" stroke-width="0.05" textLength="120.35" lengthAdjust="spacing">Response of L_M1R_SA to L_CRNGR</text>
<path d="M139.1 339.04h-2M139.1 352.29h-2M139.1 365.54h-2M139.1 378.79h-2M139.1 392.04h-2M139.1 392.04v2.5M148.88 392.04v2.5M158.66 392.04v2.5M168.43 392.04v2.5M178.21 392.04v2.5M187.99 392.04v2.5M197.77 392.04v2.5M207.54 392.04v2.5M217.32 392.04v2.5M227.1 392.04v2.5" stroke="#000" stroke-width="1" fill="none"/>
<g font-family="Liberation Sans, sans-serif" font-size="3.4" fill="#4a4a4a">
<text x="136.6" y="340.04" text-anchor="end">.08</text>
<text x="136.6" y="353.29" text-anchor="end">.04</text>
<text x="136.6" y="366.54" text-anchor="end">.00</text>
<text x="136.6" y="379.79" text-anchor="end">-.04</text>
<text x="136.6" y="393.04" text-anchor="end">-.08</text>
<text x="139.1" y="397.54" text-anchor="middle">1</text>
<text x="148.88" y="397.54" text-anchor="middle">2</text>
<text x="158.66" y="397.54" text-anchor="middle">3</text>
<text x="168.43" y="397.54" text-anchor="middle">4</text>
<text x="178.21" y="397.54" text-anchor="middle">5</text>
<text x="187.99" y="397.54" text-anchor="middle">6</text>
<text x="197.77" y="397.54" text-anchor="middle">7</text>
<text x="207.54" y="397.54" text-anchor="middle">8</text>
<text x="217.32" y="397.54" text-anchor="middle">9</text>
<text x="227.1" y="397.54" text-anchor="middle">10</text>
</g>
<path d="M139.1 365.54H227.1" stroke="#333" stroke-width="1.2"/>
<path d="M139.1 358.12 L148.88 358.92 L158.66 356 L168.43 354.01 L178.21 353.35 L187.99 352.03 L197.77 352.03 L207.54 351.36 L217.32 350.7 L227.1 350.7" stroke="#cc4450" stroke-width="1.2" fill="none" stroke-dasharray="3 2.3"/>
<path d="M139.1 362.23 L148.88 365.14 L158.66 365.14 L168.43 364.75 L178.21 365.14 L187.99 365.67 L197.77 366.34 L207.54 366.73 L217.32 367.13 L227.1 368.72" stroke="#cc4450" stroke-width="1.2" fill="none" stroke-dasharray="3 2.3"/>
<path d="M139.1 360.64 L148.88 361.96 L158.66 360.64 L168.43 359.18 L178.21 359.58 L187.99 359.18 L197.77 359.58 L207.54 359.18 L217.32 359.18 L227.1 360.11" stroke="#3434b4" stroke-width="1.35" fill="none"/>
<rect x="139.1" y="339.04" width="88" height="53" fill="none" stroke="#000" stroke-width="1.4"/>
<text x="238.79" y="334.44" font-family="Liberation Sans, sans-serif" font-size="6.2" fill="#1a1a1a" stroke="#1a1a1a" stroke-width="0.05" textLength="121.92" lengthAdjust="spacing">Response of L_M1R_SA to L_BZR_SA</text>
<path d="M251.4 339.04h-2M251.4 352.29h-2M251.4 365.54h-2M251.4 378.79h-2M251.4 392.04h-2M251.4 392.04v2.5M261.18 392.04v2.5M270.96 392.04v2.5M280.73 392.04v2.5M290.51 392.04v2.5M300.29 392.04v2.5M310.07 392.04v2.5M319.84 392.04v2.5M329.62 392.04v2.5M339.4 392.04v2.5" stroke="#000" stroke-width="1" fill="none"/>
<g font-family="Liberation Sans, sans-serif" font-size="3.4" fill="#4a4a4a">
<text x="248.9" y="340.04" text-anchor="end">.08</text>
<text x="248.9" y="353.29" text-anchor="end">.04</text>
<text x="248.9" y="366.54" text-anchor="end">.00</text>
<text x="248.9" y="379.79" text-anchor="end">-.04</text>
<text x="248.9" y="393.04" text-anchor="end">-.08</text>
<text x="251.4" y="397.54" text-anchor="middle">1</text>
<text x="261.18" y="397.54" text-anchor="middle">2</text>
<text x="270.96" y="397.54" text-anchor="middle">3</text>
<text x="280.73" y="397.54" text-anchor="middle">4</text>
<text x="290.51" y="397.54" text-anchor="middle">5</text>
<text x="300.29" y="397.54" text-anchor="middle">6</text>
<text x="310.07" y="397.54" text-anchor="middle">7</text>
<text x="319.84" y="397.54" text-anchor="middle">8</text>
<text x="329.62" y="397.54" text-anchor="middle">9</text>
<text x="339.4" y="397.54" text-anchor="middle">10</text>
</g>
<path d="M251.4 365.54H339.4" stroke="#333" stroke-width="1.2"/>
<path d="M251.4 358.12 L261.18 356.53 L270.96 355.47 L280.73 356 L290.51 355.47 L300.29 351.36 L310.07 350.3 L319.84 348.85 L329.62 349.24 L339.4 349.24" stroke="#cc4450" stroke-width="1.2" fill="none" stroke-dasharray="3 2.3"/>
<path d="M251.4 361.56 L261.18 363.69 L270.96 365.67 L280.73 367.13 L290.51 366.73 L300.29 365.14 L310.07 365.14 L319.84 364.75 L329.62 365.14 L339.4 365.67" stroke="#cc4450" stroke-width="1.2" fill="none" stroke-dasharray="3 2.3"/>
<path d="M251.4 360.11 L261.18 359.98 L270.96 359.58 L280.73 361.56 L290.51 361.56 L300.29 358.52 L310.07 357.46 L319.84 356.53 L329.62 357.06 L339.4 357.06" stroke="#3434b4" stroke-width="1.35" fill="none"/>
<rect x="251.4" y="339.04" width="88" height="53" fill="none" stroke="#000" stroke-width="1.4"/>
<text x="350.7" y="334.44" font-family="Liberation Sans, sans-serif" font-size="6.2" fill="#1a1a1a" stroke="#1a1a1a" stroke-width="0.05" textLength="122.7" lengthAdjust="spacing">Response of L_M1R_SA to L_M1R_SA</text>
<path d="M363.7 339.04h-2M363.7 352.29h-2M363.7 365.54h-2M363.7 378.79h-2M363.7 392.04h-2M363.7 392.04v2.5M373.48 392.04v2.5M383.26 392.04v2.5M393.03 392.04v2.5M402.81 392.04v2.5M412.59 392.04v2.5M422.37 392.04v2.5M432.14 392.04v2.5M441.92 392.04v2.5M451.7 392.04v2.5" stroke="#000" stroke-width="1" fill="none"/>
<g font-family="Liberation Sans, sans-serif" font-size="3.4" fill="#4a4a4a">
<text x="361.2" y="340.04" text-anchor="end">.08</text>
<text x="361.2" y="353.29" text-anchor="end">.04</text>
<text x="361.2" y="366.54" text-anchor="end">.00</text>
<text x="361.2" y="379.79" text-anchor="end">-.04</text>
<text x="361.2" y="393.04" text-anchor="end">-.08</text>
<text x="363.7" y="397.54" text-anchor="middle">1</text>
<text x="373.48" y="397.54" text-anchor="middle">2</text>
<text x="383.26" y="397.54" text-anchor="middle">3</text>
<text x="393.03" y="397.54" text-anchor="middle">4</text>
<text x="402.81" y="397.54" text-anchor="middle">5</text>
<text x="412.59" y="397.54" text-anchor="middle">6</text>
<text x="422.37" y="397.54" text-anchor="middle">7</text>
<text x="432.14" y="397.54" text-anchor="middle">8</text>
<text x="441.92" y="397.54" text-anchor="middle">9</text>
<text x="451.7" y="397.54" text-anchor="middle">10</text>
</g>
<path d="M363.7 365.54H451.7" stroke="#333" stroke-width="1.2"/>
<path d="M363.7 351.36 L373.48 351.36 L383.26 351.36 L393.03 348.71 L402.81 348.31 L412.59 347.25 L422.37 346.19 L432.14 345.14 L441.92 344.61 L451.7 344.21" stroke="#cc4450" stroke-width="1.2" fill="none" stroke-dasharray="3 2.3"/>
<path d="M363.7 354.41 L373.48 357.06 L383.26 358.12 L393.03 357.46 L402.81 360.11 L412.59 360.64 L422.37 360.64 L432.14 360.64 L441.92 361.04 L451.7 361.56" stroke="#cc4450" stroke-width="1.2" fill="none" stroke-dasharray="3 2.3"/>
<path d="M363.7 352.95 L373.48 354.41 L383.26 354.41 L393.03 352.82 L402.81 353.35 L412.59 354.41 L422.37 353.75 L432.14 353.35 L441.92 352.82 L451.7 353.35" stroke="#3434b4" stroke-width="1.35" fill="none"/>
<rect x="363.7" y="339.04" width="88" height="53" fill="none" stroke="#000" stroke-width="1.4"/>
<text x="466.91" y="334.44" font-family="Liberation Sans, sans-serif" font-size="6.2" fill="#1a1a1a" stroke="#1a1a1a" stroke-width="0.05" textLength="114.88" lengthAdjust="spacing">Response of L_M1R_SA to DAR_SA</text>
<path d="M476 339.04h-2M476 352.29h-2M476 365.54h-2M476 378.79h-2M476 392.04h-2M476 392.04v2.5M485.78 392.04v2.5M495.56 392.04v2.5M505.33 392.04v2.5M515.11 392.04v2.5M524.89 392.04v2.5M534.67 392.04v2.5M544.44 392.04v2.5M554.22 392.04v2.5M564 392.04v2.5" stroke="#000" stroke-width="1" fill="none"/>
<g font-family="Liberation Sans, sans-serif" font-size="3.4" fill="#4a4a4a">
<text x="473.5" y="340.04" text-anchor="end">.08</text>
<text x="473.5" y="353.29" text-anchor="end">.04</text>
<text x="473.5" y="366.54" text-anchor="end">.00</text>
<text x="473.5" y="379.79" text-anchor="end">-.04</text>
<text x="473.5" y="393.04" text-anchor="end">-.08</text>
<text x="476" y="397.54" text-anchor="middle">1</text>
<text x="485.78" y="397.54" text-anchor="middle">2</text>
<text x="495.56" y="397.54" text-anchor="middle">3</text>
<text x="505.33" y="397.54" text-anchor="middle">4</text>
<text x="515.11" y="397.54" text-anchor="middle">5</text>
<text x="524.89" y="397.54" text-anchor="middle">6</text>
<text x="534.67" y="397.54" text-anchor="middle">7</text>
<text x="544.44" y="397.54" text-anchor="middle">8</text>
<text x="554.22" y="397.54" text-anchor="middle">9</text>
<text x="564" y="397.54" text-anchor="middle">10</text>
</g>
<path d="M476 365.54H564" stroke="#333" stroke-width="1.2"/>
<path d="M476 365.54 L485.78 363.69 L495.56 362.62 L505.33 361.56 L515.11 360.64 L524.89 359.58 L534.67 358.52 L544.44 358.12 L554.22 357.46 L564 356.53" stroke="#cc4450" stroke-width="1.2" fill="none" stroke-dasharray="3 2.3"/>
<path d="M476 365.54 L485.78 368.19 L495.56 369.38 L505.33 370.18 L515.11 370.84 L524.89 371.5 L534.67 371.9 L544.44 372.43 L554.22 372.83 L564 373.49" stroke="#cc4450" stroke-width="1.2" fill="none" stroke-dasharray="3 2.3"/>
<path d="M476 365.54 L485.78 366.07 L495.56 366.07 L505.33 365.94 L515.11 365.94 L524.89 366.07 L534.67 365.54 L544.44 365.54 L554.22 365.54 L564 365.28" stroke="#3434b4" stroke-width="1.35" fill="none"/>
<rect x="476" y="339.04" width="88" height="53" fill="none" stroke="#000" stroke-width="1.4"/>
<text x="575.3" y="334.44" font-family="Liberation Sans, sans-serif" font-size="6.2" fill="#1a1a1a" stroke="#1a1a1a" stroke-width="0.05" textLength="122.7" lengthAdjust="spacing">Response of L_M1R_SA to L_CSR_SA</text>
<path d="M588.3 339.04h-2M588.3 352.29h-2M588.3 365.54h-2M588.3 378.79h-2M588.3 392.04h-2M588.3 392.04v2.5M598.08 392.04v2.5M607.86 392.04v2.5M617.63 392.04v2.5M627.41 392.04v2.5M637.19 392.04v2.5M646.97 392.04v2.5M656.74 392.04v2.5M666.52 392.04v2.5M676.3 392.04v2.5" stroke="#000" stroke-width="1" fill="none"/>
<g font-family="Liberation Sans, sans-serif" font-size="3.4" fill="#4a4a4a">
<text x="585.8" y="340.04" text-anchor="end">.08</text>
<text x="585.8" y="353.29" text-anchor="end">.04</text>
<text x="585.8" y="366.54" text-anchor="end">.00</text>
<text x="585.8" y="379.79" text-anchor="end">-.04</text>
<text x="585.8" y="393.04" text-anchor="end">-.08</text>
<text x="588.3" y="397.54" text-anchor="middle">1</text>
<text x="598.08" y="397.54" text-anchor="middle">2</text>
<text x="607.86" y="397.54" text-anchor="middle">3</text>
<text x="617.63" y="397.54" text-anchor="middle">4</text>
<text x="627.41" y="397.54" text-anchor="middle">5</text>
<text x="637.19" y="397.54" text-anchor="middle">6</text>
<text x="646.97" y="397.54" text-anchor="middle">7</text>
<text x="656.74" y="397.54" text-anchor="middle">8</text>
<text x="666.52" y="397.54" text-anchor="middle">9</text>
<text x="676.3" y="397.54" text-anchor="middle">10</text>
</g>
<path d="M588.3 365.54H676.3" stroke="#333" stroke-width="1.2"/>
<path d="M588.3 365.54 L598.08 366.73 L607.86 368.72 L617.63 370.44 L627.41 370.84 L637.19 369.78 L646.97 368.72 L656.74 367.79 L666.52 367.13 L676.3 367.13" stroke="#cc4450" stroke-width="1.2" fill="none" stroke-dasharray="3 2.3"/>
<path d="M588.3 365.54 L598.08 371.24 L607.86 375.61 L617.63 379.06 L627.41 381.44 L637.19 382.76 L646.97 383.56 L656.74 384.22 L666.52 385.15 L676.3 387.27" stroke="#cc4450" stroke-width="1.2" fill="none" stroke-dasharray="3 2.3"/>
<path d="M588.3 365.54 L598.08 368.72 L607.86 371.9 L617.63 374.55 L627.41 376.01 L637.19 376.41 L646.97 376.54 L656.74 376.54 L666.52 376.54 L676.3 377.6" stroke="#3434b4" stroke-width="1.35" fill="none"/>
<rect x="588.3" y="339.04" width="88" height="53" fill="none" stroke="#000" stroke-width="1.4"/>
<text x="691.12" y="334.44" font-family="Liberation Sans, sans-serif" font-size="6.2" fill="#1a1a1a" stroke="#1a1a1a" stroke-width="0.05" textLength="115.67" lengthAdjust="spacing">Response of L_M1R_SA to IPCL_SA</text>
<path d="M700.6 339.04h-2M700.6 352.29h-2M700.6 365.54h-2M700.6 378.79h-2M700.6 392.04h-2M700.6 392.04v2.5M710.38 392.04v2.5M720.16 392.04v2.5M729.93 392.04v2.5M739.71 392.04v2.5M749.49 392.04v2.5M759.27 392.04v2.5M769.04 392.04v2.5M778.82 392.04v2.5M788.6 392.04v2.5" stroke="#000" stroke-width="1" fill="none"/>
<g font-family="Liberation Sans, sans-serif" font-size="3.4" fill="#4a4a4a">
<text x="698.1" y="340.04" text-anchor="end">.08</text>
<text x="698.1" y="353.29" text-anchor="end">.04</text>
<text x="698.1" y="366.54" text-anchor="end">.00</text>
<text x="698.1" y="379.79" text-anchor="end">-.04</text>
<text x="698.1" y="393.04" text-anchor="end">-.08</text>
<text x="700.6" y="397.54" text-anchor="middle">1</text>
<text x="710.38" y="397.54" text-anchor="middle">2</text>
<text x="720.16" y="397.54" text-anchor="middle">3</text>
<text x="729.93" y="397.54" text-anchor="middle">4</text>
<text x="739.71" y="397.54" text-anchor="middle">5</text>
<text x="749.49" y="397.54" text-anchor="middle">6</text>
<text x="759.27" y="397.54" text-anchor="middle">7</text>
<text x="769.04" y="397.54" text-anchor="middle">8</text>
<text x="778.82" y="397.54" text-anchor="middle">9</text>
<text x="788.6" y="397.54" text-anchor="middle">10</text>
</g>
<path d="M700.6 365.54H788.6" stroke="#333" stroke-width="1.2"/>
<path d="M700.6 365.54 L710.38 368.72 L720.16 370.84 L729.93 371.9 L739.71 369.78 L749.49 369.25 L759.27 367.79 L769.04 366.34 L778.82 366.34 L788.6 366.34" stroke="#cc4450" stroke-width="1.2" fill="none" stroke-dasharray="3 2.3"/>
<path d="M700.6 365.54 L710.38 372.83 L720.16 376.01 L729.93 379.06 L739.71 380.12 L749.49 380.65 L759.27 381.44 L769.04 382.1 L778.82 383.56 L788.6 384.75" stroke="#cc4450" stroke-width="1.2" fill="none" stroke-dasharray="3 2.3"/>
<path d="M700.6 365.54 L710.38 370.44 L720.16 372.83 L729.93 376.01 L739.71 375.35 L749.49 374.95 L759.27 373.89 L769.04 373.89 L778.82 374.55 L788.6 375.35" stroke="#3434b4" stroke-width="1.35" fill="none"/>
<rect x="700.6" y="339.04" width="88" height="53" fill="none" stroke="#000" stroke-width="1.4"/>
<text x="810.25" y="334.44" font-family="Liberation Sans, sans-serif" font-size="6.2" fill="#1a1a1a" stroke="#1a1a1a" stroke-width="0.05" textLength="101.99" lengthAdjust="spacing">Response of L_M1R_SA to VPIL</text>
<path d="M812.9 339.04h-2M812.9 352.29h-2M812.9 365.54h-2M812.9 378.79h-2M812.9 392.04h-2M812.9 392.04v2.5M822.68 392.04v2.5M832.46 392.04v2.5M842.23 392.04v2.5M852.01 392.04v2.5M861.79 392.04v2.5M871.57 392.04v2.5M881.34 392.04v2.5M891.12 392.04v2.5M900.9 392.04v2.5" stroke="#000" stroke-width="1" fill="none"/>
<g font-family="Liberation Sans, sans-serif" font-size="3.4" fill="#4a4a4a">
<text x="810.4" y="340.04" text-anchor="end">.08</text>
<text x="810.4" y="353.29" text-anchor="end">.04</text>
<text x="810.4" y="366.54" text-anchor="end">.00</text>
<text x="810.4" y="379.79" text-anchor="end">-.04</text>
<text x="810.4" y="393.04" text-anchor="end">-.08</text>
<text x="812.9" y="397.54" text-anchor="middle">1</text>
<text x="822.68" y="397.54" text-anchor="middle">2</text>
<text x="832.46" y="397.54" text-anchor="middle">3</text>
<text x="842.23" y="397.54" text-anchor="middle">4</text>
<text x="852.01" y="397.54" text-anchor="middle">5</text>
<text x="861.79" y="397.54" text-anchor="middle">6</text>
<text x="871.57" y="397.54" text-anchor="middle">7</text>
<text x="881.34" y="397.54" text-anchor="middle">8</text>
<text x="891.12" y="397.54" text-anchor="middle">9</text>
<text x="900.9" y="397.54" text-anchor="middle">10</text>
</g>
<path d="M812.9 365.54H900.9" stroke="#333" stroke-width="1.2"/>
<path d="M812.9 365.54 L822.68 363.69 L832.46 363.42 L842.23 362.36 L852.01 361.17 L861.79 360.9 L871.57 359.84 L881.34 359.84 L891.12 359.45 L900.9 359.45" stroke="#cc4450" stroke-width="1.2" fill="none" stroke-dasharray="3 2.3"/>
<path d="M812.9 365.54 L822.68 368.19 L832.46 370.31 L842.23 370.31 L852.01 370.84 L861.79 371.37 L871.57 371.37 L881.34 371.24 L891.12 370.58 L900.9 370.31" stroke="#cc4450" stroke-width="1.2" fill="none" stroke-dasharray="3 2.3"/>
<path d="M812.9 365.54 L822.68 365.81 L832.46 366.87 L842.23 366.07 L852.01 365.81 L861.79 366.07 L871.57 365.54 L881.34 365.54 L891.12 365.01 L900.9 365.01" stroke="#3434b4" stroke-width="1.35" fill="none"/>
<rect x="812.9" y="339.04" width="88" height="53" fill="none" stroke="#000" stroke-width="1.4"/>
<text x="131.19" y="410.81" font-family="Liberation Sans, sans-serif" font-size="6.2" fill="#1a1a1a" stroke="#1a1a1a" stroke-width="0.05" textLength="112.53" lengthAdjust="spacing">Response of DAR_SA to L_CRNGR</text>
<path d="M139.1 415.41h-2M139.1 422.04h-2M139.1 428.66h-2M139.1 435.29h-2M139.1 441.91h-2M139.1 448.54h-2M139.1 455.16h-2M139.1 461.79h-2M139.1 468.41h-2M139.1 468.41v2.5M148.88 468.41v2.5M158.66 468.41v2.5M168.43 468.41v2.5M178.21 468.41v2.5M187.99 468.41v2.5M197.77 468.41v2.5M207.54 468.41v2.5M217.32 468.41v2.5M227.1 468.41v2.5" stroke="#000" stroke-width="1" fill="none"/>
<g font-family="Liberation Sans, sans-serif" font-size="3.4" fill="#4a4a4a">
<text x="136.6" y="416.41" text-anchor="end">5</text>
<text x="136.6" y="423.04" text-anchor="end">4</text>
<text x="136.6" y="429.66" text-anchor="end">3</text>
<text x="136.6" y="436.29" text-anchor="end">2</text>
<text x="136.6" y="442.91" text-anchor="end">1</text>
<text x="136.6" y="449.54" text-anchor="end">0</text>
<text x="136.6" y="456.16" text-anchor="end">-1</text>
<text x="136.6" y="462.79" text-anchor="end">-2</text>
<text x="136.6" y="469.41" text-anchor="end">-3</text>
<text x="139.1" y="473.91" text-anchor="middle">1</text>
<text x="148.88" y="473.91" text-anchor="middle">2</text>
<text x="158.66" y="473.91" text-anchor="middle">3</text>
<text x="168.43" y="473.91" text-anchor="middle">4</text>
<text x="178.21" y="473.91" text-anchor="middle">5</text>
<text x="187.99" y="473.91" text-anchor="middle">6</text>
<text x="197.77" y="473.91" text-anchor="middle">7</text>
<text x="207.54" y="473.91" text-anchor="middle">8</text>
<text x="217.32" y="473.91" text-anchor="middle">9</text>
<text x="227.1" y="473.91" text-anchor="middle">10</text>
</g>
<path d="M139.1 448.54H227.1" stroke="#333" stroke-width="1.2"/>
<path d="M139.1 447.87 L148.88 448.93 L158.66 448.93 L168.43 444.83 L178.21 440.72 L187.99 439.26 L197.77 438.66 L207.54 437.67 L217.32 438.27 L227.1 438.27" stroke="#cc4450" stroke-width="1.2" fill="none" stroke-dasharray="3 2.3"/>
<path d="M139.1 450.52 L148.88 455.09 L158.66 458.14 L168.43 458.14 L178.21 457.15 L187.99 457.55 L197.77 458.14 L207.54 457.55 L217.32 457.15 L227.1 457.55" stroke="#cc4450" stroke-width="1.2" fill="none" stroke-dasharray="3 2.3"/>
<path d="M139.1 449.53 L148.88 452.05 L158.66 453.64 L168.43 451.98 L178.21 449.33 L187.99 448.54 L197.77 448.54 L207.54 447.87 L217.32 447.87 L227.1 448.54" stroke="#3434b4" stroke-width="1.35" fill="none"/>
<rect x="139.1" y="415.41" width="88" height="53" fill="none" stroke="#000" stroke-width="1.4"/>
<text x="242.7" y="410.81" font-family="Liberation Sans, sans-serif" font-size="6.2" fill="#1a1a1a" stroke="#1a1a1a" stroke-width="0.05" textLength="114.1" lengthAdjust="spacing">Response of DAR_SA to L_BZR_SA</text>
<path d="M251.4 415.41h-2M251.4 422.04h-2M251.4 428.66h-2M251.4 435.29h-2M251.4 441.91h-2M251.4 448.54h-2M251.4 455.16h-2M251.4 461.79h-2M251.4 468.41h-2M251.4 468.41v2.5M261.18 468.41v2.5M270.96 468.41v2.5M280.73 468.41v2.5M290.51 468.41v2.5M300.29 468.41v2.5M310.07 468.41v2.5M319.84 468.41v2.5M329.62 468.41v2.5M339.4 468.41v2.5" stroke="#000" stroke-width="1" fill="none"/>
<g font-family="Liberation Sans, sans-serif" font-size="3.4" fill="#4a4a4a">
<text x="248.9" y="416.41" text-anchor="end">5</text>
<text x="248.9" y="423.04" text-anchor="end">4</text>
<text x="248.9" y="429.66" text-anchor="end">3</text>
<text x="248.9" y="436.29" text-anchor="end">2</text>
<text x="248.9" y="442.91" text-anchor="end">1</text>
<text x="248.9" y="449.54" text-anchor="end">0</text>
<text x="248.9" y="456.16" text-anchor="end">-1</text>
<text x="248.9" y="462.79" text-anchor="end">-2</text>
<text x="248.9" y="469.41" text-anchor="end">-3</text>
<text x="251.4" y="473.91" text-anchor="middle">1</text>
<text x="261.18" y="473.91" text-anchor="middle">2</text>
<text x="270.96" y="473.91" text-anchor="middle">3</text>
<text x="280.73" y="473.91" text-anchor="middle">4</text>
<text x="290.51" y="473.91" text-anchor="middle">5</text>
<text x="300.29" y="473.91" text-anchor="middle">6</text>
<text x="310.07" y="473.91" text-anchor="middle">7</text>
<text x="319.84" y="473.91" text-anchor="middle">8</text>
<text x="329.62" y="473.91" text-anchor="middle">9</text>
<text x="339.4" y="473.91" text-anchor="middle">10</text>
</g>
<path d="M251.4 448.54H339.4" stroke="#333" stroke-width="1.2"/>
<path d="M251.4 444.43 L261.18 441.78 L270.96 439.26 L280.73 438.66 L290.51 436.61 L300.29 435.22 L310.07 438.66 L319.84 442.37 L329.62 445.89 L339.4 446.88" stroke="#cc4450" stroke-width="1.2" fill="none" stroke-dasharray="3 2.3"/>
<path d="M251.4 448.93 L261.18 448.93 L270.96 448.93 L280.73 452.05 L290.51 452.05 L300.29 455.09 L310.07 459.2 L319.84 463.31 L329.62 466.36 L339.4 466.36" stroke="#cc4450" stroke-width="1.2" fill="none" stroke-dasharray="3 2.3"/>
<path d="M251.4 446.42 L261.18 445.42 L270.96 444.23 L280.73 445.42 L290.51 444.23 L300.29 444.83 L310.07 448.93 L319.84 452.64 L329.62 456.15 L339.4 456.15" stroke="#3434b4" stroke-width="1.35" fill="none"/>
<rect x="251.4" y="415.41" width="88" height="53" fill="none" stroke="#000" stroke-width="1.4"/>
<text x="354.61" y="410.81" font-family="Liberation Sans, sans-serif" font-size="6.2" fill="#1a1a1a" stroke="#1a1a1a" stroke-width="0.05" textLength="114.88" lengthAdjust="spacing">Response of DAR_SA to L_M1R_SA</text>
<path d="M363.7 415.41h-2M363.7 422.04h-2M363.7 428.66h-2M363.7 435.29h-2M363.7 441.91h-2M363.7 448.54h-2M363.7 455.16h-2M363.7 461.79h-2M363.7 468.41h-2M363.7 468.41v2.5M373.48 468.41v2.5M383.26 468.41v2.5M393.03 468.41v2.5M402.81 468.41v2.5M412.59 468.41v2.5M422.37 468.41v2.5M432.14 468.41v2.5M441.92 468.41v2.5M451.7 468.41v2.5" stroke="#000" stroke-width="1" fill="none"/>
<g font-family="Liberation Sans, sans-serif" font-size="3.4" fill="#4a4a4a">
<text x="361.2" y="416.41" text-anchor="end">5</text>
<text x="361.2" y="423.04" text-anchor="end">4</text>
<text x="361.2" y="429.66" text-anchor="end">3</text>
<text x="361.2" y="436.29" text-anchor="end">2</text>
<text x="361.2" y="442.91" text-anchor="end">1</text>
<text x="361.2" y="449.54" text-anchor="end">0</text>
<text x="361.2" y="456.16" text-anchor="end">-1</text>
<text x="361.2" y="462.79" text-anchor="end">-2</text>
<text x="361.2" y="469.41" text-anchor="end">-3</text>
<text x="363.7" y="473.91" text-anchor="middle">1</text>
<text x="373.48" y="473.91" text-anchor="middle">2</text>
<text x="383.26" y="473.91" text-anchor="middle">3</text>
<text x="393.03" y="473.91" text-anchor="middle">4</text>
<text x="402.81" y="473.91" text-anchor="middle">5</text>
<text x="412.59" y="473.91" text-anchor="middle">6</text>
<text x="422.37" y="473.91" text-anchor="middle">7</text>
<text x="432.14" y="473.91" text-anchor="middle">8</text>
<text x="441.92" y="473.91" text-anchor="middle">9</text>
<text x="451.7" y="473.91" text-anchor="middle">10</text>
</g>
<path d="M363.7 448.54H451.7" stroke="#333" stroke-width="1.2"/>
<path d="M363.7 445.49 L373.48 443.77 L383.26 445.22 L393.03 445.82 L402.81 445.22 L412.59 444.43 L422.37 442.77 L432.14 441.78 L441.92 440.72 L451.7 440.72" stroke="#cc4450" stroke-width="1.2" fill="none" stroke-dasharray="3 2.3"/>
<path d="M363.7 449.53 L373.48 449.93 L383.26 454.1 L393.03 458.14 L402.81 462.25 L412.59 464.3 L422.37 463.31 L432.14 462.25 L441.92 461.25 L451.7 460.79" stroke="#cc4450" stroke-width="1.2" fill="none" stroke-dasharray="3 2.3"/>
<path d="M363.7 448.54 L373.48 446.88 L383.26 449.53 L393.03 452.05 L402.81 453.04 L412.59 454.7 L422.37 453.04 L432.14 452.05 L441.92 450.99 L451.7 450.39" stroke="#3434b4" stroke-width="1.35" fill="none"/>
<rect x="363.7" y="415.41" width="88" height="53" fill="none" stroke="#000" stroke-width="1.4"/>
<text x="470.82" y="410.81" font-family="Liberation Sans, sans-serif" font-size="6.2" fill="#1a1a1a" stroke="#1a1a1a" stroke-width="0.05" textLength="107.06" lengthAdjust="spacing">Response of DAR_SA to DAR_SA</text>
<path d="M476 415.41h-2M476 422.04h-2M476 428.66h-2M476 435.29h-2M476 441.91h-2M476 448.54h-2M476 455.16h-2M476 461.79h-2M476 468.41h-2M476 468.41v2.5M485.78 468.41v2.5M495.56 468.41v2.5M505.33 468.41v2.5M515.11 468.41v2.5M524.89 468.41v2.5M534.67 468.41v2.5M544.44 468.41v2.5M554.22 468.41v2.5M564 468.41v2.5" stroke="#000" stroke-width="1" fill="none"/>
<g font-family="Liberation Sans, sans-serif" font-size="3.4" fill="#4a4a4a">
<text x="473.5" y="416.41" text-anchor="end">5</text>
<text x="473.5" y="423.04" text-anchor="end">4</text>
<text x="473.5" y="429.66" text-anchor="end">3</text>
<text x="473.5" y="436.29" text-anchor="end">2</text>
<text x="473.5" y="442.91" text-anchor="end">1</text>
<text x="473.5" y="449.54" text-anchor="end">0</text>
<text x="473.5" y="456.16" text-anchor="end">-1</text>
<text x="473.5" y="462.79" text-anchor="end">-2</text>
<text x="473.5" y="469.41" text-anchor="end">-3</text>
<text x="476" y="473.91" text-anchor="middle">1</text>
<text x="485.78" y="473.91" text-anchor="middle">2</text>
<text x="495.56" y="473.91" text-anchor="middle">3</text>
<text x="505.33" y="473.91" text-anchor="middle">4</text>
<text x="515.11" y="473.91" text-anchor="middle">5</text>
<text x="524.89" y="473.91" text-anchor="middle">6</text>
<text x="534.67" y="473.91" text-anchor="middle">7</text>
<text x="544.44" y="473.91" text-anchor="middle">8</text>
<text x="554.22" y="473.91" text-anchor="middle">9</text>
<text x="564" y="473.91" text-anchor="middle">10</text>
</g>
<path d="M476 448.54H564" stroke="#333" stroke-width="1.2"/>
<path d="M476 432.5 L485.78 430.45 L495.56 426.81 L505.33 424.75 L515.11 426.34 L524.89 426.34 L534.67 426.81 L544.44 428.4 L554.22 430.45 L564 432.5" stroke="#cc4450" stroke-width="1.2" fill="none" stroke-dasharray="3 2.3"/>
<path d="M476 436.21 L485.78 436.61 L495.56 435.22 L505.33 436.21 L515.11 440.72 L524.89 443.77 L534.67 446.48 L544.44 448.54 L554.22 449.93 L564 451.38" stroke="#cc4450" stroke-width="1.2" fill="none" stroke-dasharray="3 2.3"/>
<path d="M476 434.56 L485.78 433.56 L495.56 431.05 L505.33 430.05 L515.11 433.1 L524.89 434.56 L534.67 436.61 L544.44 438.27 L554.22 440.12 L564 441.78" stroke="#3434b4" stroke-width="1.35" fill="none"/>
<rect x="476" y="415.41" width="88" height="53" fill="none" stroke="#000" stroke-width="1.4"/>
<text x="579.21" y="410.81" font-family="Liberation Sans, sans-serif" font-size="6.2" fill="#1a1a1a" stroke="#1a1a1a" stroke-width="0.05" textLength="114.88" lengthAdjust="spacing">Response of DAR_SA to L_CSR_SA</text>
<path d="M588.3 415.41h-2M588.3 422.04h-2M588.3 428.66h-2M588.3 435.29h-2M588.3 441.91h-2M588.3 448.54h-2M588.3 455.16h-2M588.3 461.79h-2M588.3 468.41h-2M588.3 468.41v2.5M598.08 468.41v2.5M607.86 468.41v2.5M617.63 468.41v2.5M627.41 468.41v2.5M637.19 468.41v2.5M646.97 468.41v2.5M656.74 468.41v2.5M666.52 468.41v2.5M676.3 468.41v2.5" stroke="#000" stroke-width="1" fill="none"/>
<g font-family="Liberation Sans, sans-serif" font-size="3.4" fill="#4a4a4a">
<text x="585.8" y="416.41" text-anchor="end">5</text>
<text x="585.8" y="423.04" text-anchor="end">4</text>
<text x="585.8" y="429.66" text-anchor="end">3</text>
<text x="585.8" y="436.29" text-anchor="end">2</text>
<text x="585.8" y="442.91" text-anchor="end">1</text>
<text x="585.8" y="449.54" text-anchor="end">0</text>
<text x="585.8" y="456.16" text-anchor="end">-1</text>
<text x="585.8" y="462.79" text-anchor="end">-2</text>
<text x="585.8" y="469.41" text-anchor="end">-3</text>
<text x="588.3" y="473.91" text-anchor="middle">1</text>
<text x="598.08" y="473.91" text-anchor="middle">2</text>
<text x="607.86" y="473.91" text-anchor="middle">3</text>
<text x="617.63" y="473.91" text-anchor="middle">4</text>
<text x="627.41" y="473.91" text-anchor="middle">5</text>
<text x="637.19" y="473.91" text-anchor="middle">6</text>
<text x="646.97" y="473.91" text-anchor="middle">7</text>
<text x="656.74" y="473.91" text-anchor="middle">8</text>
<text x="666.52" y="473.91" text-anchor="middle">9</text>
<text x="676.3" y="473.91" text-anchor="middle">10</text>
</g>
<path d="M588.3 448.54H676.3" stroke="#333" stroke-width="1.2"/>
<path d="M588.3 447.87 L598.08 444.83 L607.86 439.72 L617.63 433.56 L627.41 425.35 L637.19 420.64 L646.97 422.7 L656.74 425.94 L666.52 428.79 L676.3 431.51" stroke="#cc4450" stroke-width="1.2" fill="none" stroke-dasharray="3 2.3"/>
<path d="M588.3 448.54 L598.08 448.93 L607.86 446.88 L617.63 442.77 L627.41 439.26 L637.19 438.27 L646.97 441.78 L656.74 447.87 L666.52 452.05 L676.3 455.09" stroke="#cc4450" stroke-width="1.2" fill="none" stroke-dasharray="3 2.3"/>
<path d="M588.3 448.54 L598.08 447.87 L607.86 442.77 L617.63 438.66 L627.41 432.5 L637.19 429.46 L646.97 432.11 L656.74 436.61 L666.52 440.72 L676.3 443.77" stroke="#3434b4" stroke-width="1.35" fill="none"/>
<rect x="588.3" y="415.41" width="88" height="53" fill="none" stroke="#000" stroke-width="1.4"/>
<text x="695.02" y="410.81" font-family="Liberation Sans, sans-serif" font-size="6.2" fill="#1a1a1a" stroke="#1a1a1a" stroke-width="0.05" textLength="107.85" lengthAdjust="spacing">Response of DAR_SA to IPCL_SA</text>
<path d="M700.6 415.41h-2M700.6 422.04h-2M700.6 428.66h-2M700.6 435.29h-2M700.6 441.91h-2M700.6 448.54h-2M700.6 455.16h-2M700.6 461.79h-2M700.6 468.41h-2M700.6 468.41v2.5M710.38 468.41v2.5M720.16 468.41v2.5M729.93 468.41v2.5M739.71 468.41v2.5M749.49 468.41v2.5M759.27 468.41v2.5M769.04 468.41v2.5M778.82 468.41v2.5M788.6 468.41v2.5" stroke="#000" stroke-width="1" fill="none"/>
<g font-family="Liberation Sans, sans-serif" font-size="3.4" fill="#4a4a4a">
<text x="698.1" y="416.41" text-anchor="end">5</text>
<text x="698.1" y="423.04" text-anchor="end">4</text>
<text x="698.1" y="429.66" text-anchor="end">3</text>
<text x="698.1" y="436.29" text-anchor="end">2</text>
<text x="698.1" y="442.91" text-anchor="end">1</text>
<text x="698.1" y="449.54" text-anchor="end">0</text>
<text x="698.1" y="456.16" text-anchor="end">-1</text>
<text x="698.1" y="462.79" text-anchor="end">-2</text>
<text x="698.1" y="469.41" text-anchor="end">-3</text>
<text x="700.6" y="473.91" text-anchor="middle">1</text>
<text x="710.38" y="473.91" text-anchor="middle">2</text>
<text x="720.16" y="473.91" text-anchor="middle">3</text>
<text x="729.93" y="473.91" text-anchor="middle">4</text>
<text x="739.71" y="473.91" text-anchor="middle">5</text>
<text x="749.49" y="473.91" text-anchor="middle">6</text>
<text x="759.27" y="473.91" text-anchor="middle">7</text>
<text x="769.04" y="473.91" text-anchor="middle">8</text>
<text x="778.82" y="473.91" text-anchor="middle">9</text>
<text x="788.6" y="473.91" text-anchor="middle">10</text>
</g>
<path d="M700.6 448.54H788.6" stroke="#333" stroke-width="1.2"/>
<path d="M700.6 447.87 L710.38 441.78 L720.16 435.62 L729.93 428.4 L739.71 421.24 L749.49 420.18 L759.27 422.23 L769.04 426.34 L778.82 430.05 L788.6 429.46" stroke="#cc4450" stroke-width="1.2" fill="none" stroke-dasharray="3 2.3"/>
<path d="M700.6 448.54 L710.38 445.42 L720.16 440.72 L729.93 435.62 L739.71 433.1 L749.49 435.62 L759.27 440.72 L769.04 446.48 L778.82 452.05 L788.6 452.64" stroke="#cc4450" stroke-width="1.2" fill="none" stroke-dasharray="3 2.3"/>
<path d="M700.6 448.54 L710.38 443.77 L720.16 438.27 L729.93 431.51 L739.71 427.4 L749.49 428.4 L759.27 431.51 L769.04 436.61 L778.82 441.18 L788.6 441.78" stroke="#3434b4" stroke-width="1.35" fill="none"/>
<rect x="700.6" y="415.41" width="88" height="53" fill="none" stroke="#000" stroke-width="1.4"/>
<text x="814.16" y="410.81" font-family="Liberation Sans, sans-serif" font-size="6.2" fill="#1a1a1a" stroke="#1a1a1a" stroke-width="0.05" textLength="94.17" lengthAdjust="spacing">Response of DAR_SA to VPIL</text>
<path d="M812.9 415.41h-2M812.9 422.04h-2M812.9 428.66h-2M812.9 435.29h-2M812.9 441.91h-2M812.9 448.54h-2M812.9 455.16h-2M812.9 461.79h-2M812.9 468.41h-2M812.9 468.41v2.5M822.68 468.41v2.5M832.46 468.41v2.5M842.23 468.41v2.5M852.01 468.41v2.5M861.79 468.41v2.5M871.57 468.41v2.5M881.34 468.41v2.5M891.12 468.41v2.5M900.9 468.41v2.5" stroke="#000" stroke-width="1" fill="none"/>
<g font-family="Liberation Sans, sans-serif" font-size="3.4" fill="#4a4a4a">
<text x="810.4" y="416.41" text-anchor="end">5</text>
<text x="810.4" y="423.04" text-anchor="end">4</text>
<text x="810.4" y="429.66" text-anchor="end">3</text>
<text x="810.4" y="436.29" text-anchor="end">2</text>
<text x="810.4" y="442.91" text-anchor="end">1</text>
<text x="810.4" y="449.54" text-anchor="end">0</text>
<text x="810.4" y="456.16" text-anchor="end">-1</text>
<text x="810.4" y="462.79" text-anchor="end">-2</text>
<text x="810.4" y="469.41" text-anchor="end">-3</text>
<text x="812.9" y="473.91" text-anchor="middle">1</text>
<text x="822.68" y="473.91" text-anchor="middle">2</text>
<text x="832.46" y="473.91" text-anchor="middle">3</text>
<text x="842.23" y="473.91" text-anchor="middle">4</text>
<text x="852.01" y="473.91" text-anchor="middle">5</text>
<text x="861.79" y="473.91" text-anchor="middle">6</text>
<text x="871.57" y="473.91" text-anchor="middle">7</text>
<text x="881.34" y="473.91" text-anchor="middle">8</text>
<text x="891.12" y="473.91" text-anchor="middle">9</text>
<text x="900.9" y="473.91" text-anchor="middle">10</text>
</g>
<path d="M812.9 448.54H900.9" stroke="#333" stroke-width="1.2"/>
<path d="M812.9 448.54 L822.68 445.29 L832.46 443.17 L842.23 440.98 L852.01 438.33 L861.79 437.21 L871.57 436.15 L881.34 436.15 L891.12 437.8 L900.9 439.92" stroke="#cc4450" stroke-width="1.2" fill="none" stroke-dasharray="3 2.3"/>
<path d="M812.9 448.54 L822.68 449.4 L832.46 450.12 L842.23 451.52 L852.01 451.52 L861.79 453.11 L871.57 452.58 L881.34 452.84 L891.12 452.84 L900.9 452.58" stroke="#cc4450" stroke-width="1.2" fill="none" stroke-dasharray="3 2.3"/>
<path d="M812.9 448.54 L822.68 447.48 L832.46 446.61 L842.23 446.61 L852.01 445.29 L861.79 445.29 L871.57 444.23 L881.34 444.23 L891.12 445.29 L900.9 446.35" stroke="#3434b4" stroke-width="1.35" fill="none"/>
<rect x="812.9" y="415.41" width="88" height="53" fill="none" stroke="#000" stroke-width="1.4"/>
<text x="127.28" y="487.18" font-family="Liberation Sans, sans-serif" font-size="6.2" fill="#1a1a1a" stroke="#1a1a1a" stroke-width="0.05" textLength="120.35" lengthAdjust="spacing">Response of L_CSR_SA to L_CRNGR</text>
<path d="M139.1 491.78h-2M139.1 498.41h-2M139.1 505.03h-2M139.1 511.66h-2M139.1 518.28h-2M139.1 524.9h-2M139.1 531.53h-2M139.1 538.15h-2M139.1 544.78h-2M139.1 544.78v2.5M148.88 544.78v2.5M158.66 544.78v2.5M168.43 544.78v2.5M178.21 544.78v2.5M187.99 544.78v2.5M197.77 544.78v2.5M207.54 544.78v2.5M217.32 544.78v2.5M227.1 544.78v2.5" stroke="#000" stroke-width="1" fill="none"/>
<g font-family="Liberation Sans, sans-serif" font-size="3.4" fill="#4a4a4a">
<text x="136.6" y="492.78" text-anchor="end">.05</text>
<text x="136.6" y="499.41" text-anchor="end">.04</text>
<text x="136.6" y="506.03" text-anchor="end">.03</text>
<text x="136.6" y="512.65" text-anchor="end">.02</text>
<text x="136.6" y="519.28" text-anchor="end">.01</text>
<text x="136.6" y="525.9" text-anchor="end">.00</text>
<text x="136.6" y="532.53" text-anchor="end">-.01</text>
<text x="136.6" y="539.15" text-anchor="end">-.02</text>
<text x="136.6" y="545.78" text-anchor="end">-.03</text>
<text x="139.1" y="550.28" text-anchor="middle">1</text>
<text x="148.88" y="550.28" text-anchor="middle">2</text>
<text x="158.66" y="550.28" text-anchor="middle">3</text>
<text x="168.43" y="550.28" text-anchor="middle">4</text>
<text x="178.21" y="550.28" text-anchor="middle">5</text>
<text x="187.99" y="550.28" text-anchor="middle">6</text>
<text x="197.77" y="550.28" text-anchor="middle">7</text>
<text x="207.54" y="550.28" text-anchor="middle">8</text>
<text x="217.32" y="550.28" text-anchor="middle">9</text>
<text x="227.1" y="550.28" text-anchor="middle">10</text>
</g>
<path d="M139.1 524.9H227.1" stroke="#555" stroke-width="1.4"/>
<path d="M139.1 513.18 L148.88 514.64 L158.66 513.18 L168.43 508.48 L178.21 505.43 L187.99 505.43 L197.77 507.02 L207.54 507.48 L217.32 505.83 L227.1 506.42" stroke="#cc4450" stroke-width="1.2" fill="none" stroke-dasharray="3 2.3"/>
<path d="M139.1 519.34 L148.88 524.24 L158.66 525.5 L168.43 522.85 L178.21 520.4 L187.99 522.19 L197.77 523.85 L207.54 524.24 L217.32 524.9 L227.1 525.5" stroke="#cc4450" stroke-width="1.2" fill="none" stroke-dasharray="3 2.3"/>
<path d="M139.1 515.63 L148.88 519.34 L158.66 519.34 L168.43 515.63 L178.21 512.98 L187.99 513.58 L197.77 515.23 L207.54 515.63 L217.32 514.64 L227.1 515.23" stroke="#3434b4" stroke-width="1.35" fill="none"/>
<rect x="139.1" y="491.78" width="88" height="53" fill="none" stroke="#000" stroke-width="1.4"/>
<text x="238.79" y="487.18" font-family="Liberation Sans, sans-serif" font-size="6.2" fill="#1a1a1a" stroke="#1a1a1a" stroke-width="0.05" textLength="121.92" lengthAdjust="spacing">Response of L_CSR_SA to L_BZR_SA</text>
<path d="M251.4 491.78h-2M251.4 498.41h-2M251.4 505.03h-2M251.4 511.66h-2M251.4 518.28h-2M251.4 524.9h-2M251.4 531.53h-2M251.4 538.15h-2M251.4 544.78h-2M251.4 544.78v2.5M261.18 544.78v2.5M270.96 544.78v2.5M280.73 544.78v2.5M290.51 544.78v2.5M300.29 544.78v2.5M310.07 544.78v2.5M319.84 544.78v2.5M329.62 544.78v2.5M339.4 544.78v2.5" stroke="#000" stroke-width="1" fill="none"/>
<g font-family="Liberation Sans, sans-serif" font-size="3.4" fill="#4a4a4a">
<text x="248.9" y="492.78" text-anchor="end">.05</text>
<text x="248.9" y="499.41" text-anchor="end">.04</text>
<text x="248.9" y="506.03" text-anchor="end">.03</text>
<text x="248.9" y="512.65" text-anchor="end">.02</text>
<text x="248.9" y="519.28" text-anchor="end">.01</text>
<text x="248.9" y="525.9" text-anchor="end">.00</text>
<text x="248.9" y="532.53" text-anchor="end">-.01</text>
<text x="248.9" y="539.15" text-anchor="end">-.02</text>
<text x="248.9" y="545.78" text-anchor="end">-.03</text>
<text x="251.4" y="550.28" text-anchor="middle">1</text>
<text x="261.18" y="550.28" text-anchor="middle">2</text>
<text x="270.96" y="550.28" text-anchor="middle">3</text>
<text x="280.73" y="550.28" text-anchor="middle">4</text>
<text x="290.51" y="550.28" text-anchor="middle">5</text>
<text x="300.29" y="550.28" text-anchor="middle">6</text>
<text x="310.07" y="550.28" text-anchor="middle">7</text>
<text x="319.84" y="550.28" text-anchor="middle">8</text>
<text x="329.62" y="550.28" text-anchor="middle">9</text>
<text x="339.4" y="550.28" text-anchor="middle">10</text>
</g>
<path d="M251.4 524.9H339.4" stroke="#555" stroke-width="1.4"/>
<path d="M251.4 515.23 L261.18 512.58 L270.96 512.19 L280.73 514.24 L290.51 514.24 L300.29 511.99 L310.07 511.99 L319.84 509.93 L329.62 509.93 L339.4 509.93" stroke="#cc4450" stroke-width="1.2" fill="none" stroke-dasharray="3 2.3"/>
<path d="M251.4 521.39 L261.18 522.85 L270.96 524.9 L280.73 527.95 L290.51 529.61 L300.29 528.62 L310.07 528.42 L319.84 526.96 L329.62 527.36 L339.4 528.42" stroke="#cc4450" stroke-width="1.2" fill="none" stroke-dasharray="3 2.3"/>
<path d="M251.4 518.28 L261.18 517.29 L270.96 518.28 L280.73 520.8 L290.51 522.25 L300.29 520.8 L310.07 520.2 L319.84 518.74 L329.62 518.74 L339.4 519.34" stroke="#3434b4" stroke-width="1.35" fill="none"/>
<rect x="251.4" y="491.78" width="88" height="53" fill="none" stroke="#000" stroke-width="1.4"/>
<text x="350.7" y="487.18" font-family="Liberation Sans, sans-serif" font-size="6.2" fill="#1a1a1a" stroke="#1a1a1a" stroke-width="0.05" textLength="122.7" lengthAdjust="spacing">Response of L_CSR_SA to L_M1R_SA</text>
<path d="M363.7 491.78h-2M363.7 498.41h-2M363.7 505.03h-2M363.7 511.66h-2M363.7 518.28h-2M363.7 524.9h-2M363.7 531.53h-2M363.7 538.15h-2M363.7 544.78h-2M363.7 544.78v2.5M373.48 544.78v2.5M383.26 544.78v2.5M393.03 544.78v2.5M402.81 544.78v2.5M412.59 544.78v2.5M422.37 544.78v2.5M432.14 544.78v2.5M441.92 544.78v2.5M451.7 544.78v2.5" stroke="#000" stroke-width="1" fill="none"/>
<g font-family="Liberation Sans, sans-serif" font-size="3.4" fill="#4a4a4a">
<text x="361.2" y="492.78" text-anchor="end">.05</text>
<text x="361.2" y="499.41" text-anchor="end">.04</text>
<text x="361.2" y="506.03" text-anchor="end">.03</text>
<text x="361.2" y="512.65" text-anchor="end">.02</text>
<text x="361.2" y="519.28" text-anchor="end">.01</text>
<text x="361.2" y="525.9" text-anchor="end">.00</text>
<text x="361.2" y="532.53" text-anchor="end">-.01</text>
<text x="361.2" y="539.15" text-anchor="end">-.02</text>
<text x="361.2" y="545.78" text-anchor="end">-.03</text>
<text x="363.7" y="550.28" text-anchor="middle">1</text>
<text x="373.48" y="550.28" text-anchor="middle">2</text>
<text x="383.26" y="550.28" text-anchor="middle">3</text>
<text x="393.03" y="550.28" text-anchor="middle">4</text>
<text x="402.81" y="550.28" text-anchor="middle">5</text>
<text x="412.59" y="550.28" text-anchor="middle">6</text>
<text x="422.37" y="550.28" text-anchor="middle">7</text>
<text x="432.14" y="550.28" text-anchor="middle">8</text>
<text x="441.92" y="550.28" text-anchor="middle">9</text>
<text x="451.7" y="550.28" text-anchor="middle">10</text>
</g>
<path d="M363.7 524.9H451.7" stroke="#555" stroke-width="1.4"/>
<path d="M363.7 520.4 L373.48 519.34 L383.26 517.29 L393.03 514.64 L402.81 515.23 L412.59 515.23 L422.37 514.04 L432.14 511.12 L441.92 509.47 L451.7 506.42" stroke="#cc4450" stroke-width="1.2" fill="none" stroke-dasharray="3 2.3"/>
<path d="M363.7 525.5 L373.48 529.41 L383.26 530.4 L393.03 529.01 L402.81 532.06 L412.59 531.07 L422.37 529.01 L432.14 526.5 L441.92 525.3 L451.7 525.5" stroke="#cc4450" stroke-width="1.2" fill="none" stroke-dasharray="3 2.3"/>
<path d="M363.7 523.45 L373.48 524.9 L383.26 524.51 L393.03 521.79 L402.81 523.45 L412.59 523.85 L422.37 522.25 L432.14 519.74 L441.92 518.15 L451.7 515.63" stroke="#3434b4" stroke-width="1.35" fill="none"/>
<rect x="363.7" y="491.78" width="88" height="53" fill="none" stroke="#000" stroke-width="1.4"/>
<text x="466.91" y="487.18" font-family="Liberation Sans, sans-serif" font-size="6.2" fill="#1a1a1a" stroke="#1a1a1a" stroke-width="0.05" textLength="114.88" lengthAdjust="spacing">Response of L_CSR_SA to DAR_SA</text>
<path d="M476 491.78h-2M476 498.41h-2M476 505.03h-2M476 511.66h-2M476 518.28h-2M476 524.9h-2M476 531.53h-2M476 538.15h-2M476 544.78h-2M476 544.78v2.5M485.78 544.78v2.5M495.56 544.78v2.5M505.33 544.78v2.5M515.11 544.78v2.5M524.89 544.78v2.5M534.67 544.78v2.5M544.44 544.78v2.5M554.22 544.78v2.5M564 544.78v2.5" stroke="#000" stroke-width="1" fill="none"/>
<g font-family="Liberation Sans, sans-serif" font-size="3.4" fill="#4a4a4a">
<text x="473.5" y="492.78" text-anchor="end">.05</text>
<text x="473.5" y="499.41" text-anchor="end">.04</text>
<text x="473.5" y="506.03" text-anchor="end">.03</text>
<text x="473.5" y="512.65" text-anchor="end">.02</text>
<text x="473.5" y="519.28" text-anchor="end">.01</text>
<text x="473.5" y="525.9" text-anchor="end">.00</text>
<text x="473.5" y="532.53" text-anchor="end">-.01</text>
<text x="473.5" y="539.15" text-anchor="end">-.02</text>
<text x="473.5" y="545.78" text-anchor="end">-.03</text>
<text x="476" y="550.28" text-anchor="middle">1</text>
<text x="485.78" y="550.28" text-anchor="middle">2</text>
<text x="495.56" y="550.28" text-anchor="middle">3</text>
<text x="505.33" y="550.28" text-anchor="middle">4</text>
<text x="515.11" y="550.28" text-anchor="middle">5</text>
<text x="524.89" y="550.28" text-anchor="middle">6</text>
<text x="534.67" y="550.28" text-anchor="middle">7</text>
<text x="544.44" y="550.28" text-anchor="middle">8</text>
<text x="554.22" y="550.28" text-anchor="middle">9</text>
<text x="564" y="550.28" text-anchor="middle">10</text>
</g>
<path d="M476 524.9H564" stroke="#555" stroke-width="1.4"/>
<path d="M476 522.39 L485.78 522.39 L495.56 514.64 L505.33 510.53 L515.11 508.48 L524.89 507.48 L534.67 507.48 L544.44 507.48 L554.22 507.02 L564 507.02" stroke="#cc4450" stroke-width="1.2" fill="none" stroke-dasharray="3 2.3"/>
<path d="M476 527.56 L485.78 531.66 L495.56 526.96 L505.33 523.85 L515.11 522.85 L524.89 522.19 L534.67 522.85 L544.44 523.45 L554.22 524.24 L564 525.5" stroke="#cc4450" stroke-width="1.2" fill="none" stroke-dasharray="3 2.3"/>
<path d="M476 524.9 L485.78 526.96 L495.56 520.8 L505.33 517.29 L515.11 515.63 L524.89 515.23 L534.67 515.63 L544.44 515.63 L554.22 516.09 L564 516.09" stroke="#3434b4" stroke-width="1.35" fill="none"/>
<rect x="476" y="491.78" width="88" height="53" fill="none" stroke="#000" stroke-width="1.4"/>
<text x="575.3" y="487.18" font-family="Liberation Sans, sans-serif" font-size="6.2" fill="#1a1a1a" stroke="#1a1a1a" stroke-width="0.05" textLength="122.7" lengthAdjust="spacing">Response of L_CSR_SA to L_CSR_SA</text>
<path d="M588.3 491.78h-2M588.3 498.41h-2M588.3 505.03h-2M588.3 511.66h-2M588.3 518.28h-2M588.3 524.9h-2M588.3 531.53h-2M588.3 538.15h-2M588.3 544.78h-2M588.3 544.78v2.5M598.08 544.78v2.5M607.86 544.78v2.5M617.63 544.78v2.5M627.41 544.78v2.5M637.19 544.78v2.5M646.97 544.78v2.5M656.74 544.78v2.5M666.52 544.78v2.5M676.3 544.78v2.5" stroke="#000" stroke-width="1" fill="none"/>
<g font-family="Liberation Sans, sans-serif" font-size="3.4" fill="#4a4a4a">
<text x="585.8" y="492.78" text-anchor="end">.05</text>
<text x="585.8" y="499.41" text-anchor="end">.04</text>
<text x="585.8" y="506.03" text-anchor="end">.03</text>
<text x="585.8" y="512.65" text-anchor="end">.02</text>
<text x="585.8" y="519.28" text-anchor="end">.01</text>
<text x="585.8" y="525.9" text-anchor="end">.00</text>
<text x="585.8" y="532.53" text-anchor="end">-.01</text>
<text x="585.8" y="539.15" text-anchor="end">-.02</text>
<text x="585.8" y="545.78" text-anchor="end">-.03</text>
<text x="588.3" y="550.28" text-anchor="middle">1</text>
<text x="598.08" y="550.28" text-anchor="middle">2</text>
<text x="607.86" y="550.28" text-anchor="middle">3</text>
<text x="617.63" y="550.28" text-anchor="middle">4</text>
<text x="627.41" y="550.28" text-anchor="middle">5</text>
<text x="637.19" y="550.28" text-anchor="middle">6</text>
<text x="646.97" y="550.28" text-anchor="middle">7</text>
<text x="656.74" y="550.28" text-anchor="middle">8</text>
<text x="666.52" y="550.28" text-anchor="middle">9</text>
<text x="676.3" y="550.28" text-anchor="middle">10</text>
</g>
<path d="M588.3 524.9H676.3" stroke="#555" stroke-width="1.4"/>
<path d="M588.3 502.98 L598.08 496.55 L607.86 497.21 L617.63 499.27 L627.41 502.31 L637.19 503.37 L646.97 501.32 L656.74 498.21 L666.52 496.15 L676.3 495.56" stroke="#cc4450" stroke-width="1.2" fill="none" stroke-dasharray="3 2.3"/>
<path d="M588.3 508.08 L598.08 504.77 L607.86 508.48 L617.63 513.58 L627.41 517.29 L637.19 519.74 L646.97 519.34 L656.74 517.29 L666.52 516.69 L676.3 518.15" stroke="#cc4450" stroke-width="1.2" fill="none" stroke-dasharray="3 2.3"/>
<path d="M588.3 505.43 L598.08 500.26 L607.86 503.37 L617.63 507.48 L627.41 510.13 L637.19 511.52 L646.97 510.13 L656.74 508.08 L666.52 506.42 L676.3 507.02" stroke="#3434b4" stroke-width="1.35" fill="none"/>
<rect x="588.3" y="491.78" width="88" height="53" fill="none" stroke="#000" stroke-width="1.4"/>
<text x="691.12" y="487.18" font-family="Liberation Sans, sans-serif" font-size="6.2" fill="#1a1a1a" stroke="#1a1a1a" stroke-width="0.05" textLength="115.67" lengthAdjust="spacing">Response of L_CSR_SA to IPCL_SA</text>
<path d="M700.6 491.78h-2M700.6 498.41h-2M700.6 505.03h-2M700.6 511.66h-2M700.6 518.28h-2M700.6 524.9h-2M700.6 531.53h-2M700.6 538.15h-2M700.6 544.78h-2M700.6 544.78v2.5M710.38 544.78v2.5M720.16 544.78v2.5M729.93 544.78v2.5M739.71 544.78v2.5M749.49 544.78v2.5M759.27 544.78v2.5M769.04 544.78v2.5M778.82 544.78v2.5M788.6 544.78v2.5" stroke="#000" stroke-width="1" fill="none"/>
<g font-family="Liberation Sans, sans-serif" font-size="3.4" fill="#4a4a4a">
<text x="698.1" y="492.78" text-anchor="end">.05</text>
<text x="698.1" y="499.41" text-anchor="end">.04</text>
<text x="698.1" y="506.03" text-anchor="end">.03</text>
<text x="698.1" y="512.65" text-anchor="end">.02</text>
<text x="698.1" y="519.28" text-anchor="end">.01</text>
<text x="698.1" y="525.9" text-anchor="end">.00</text>
<text x="698.1" y="532.53" text-anchor="end">-.01</text>
<text x="698.1" y="539.15" text-anchor="end">-.02</text>
<text x="698.1" y="545.78" text-anchor="end">-.03</text>
<text x="700.6" y="550.28" text-anchor="middle">1</text>
<text x="710.38" y="550.28" text-anchor="middle">2</text>
<text x="720.16" y="550.28" text-anchor="middle">3</text>
<text x="729.93" y="550.28" text-anchor="middle">4</text>
<text x="739.71" y="550.28" text-anchor="middle">5</text>
<text x="749.49" y="550.28" text-anchor="middle">6</text>
<text x="759.27" y="550.28" text-anchor="middle">7</text>
<text x="769.04" y="550.28" text-anchor="middle">8</text>
<text x="778.82" y="550.28" text-anchor="middle">9</text>
<text x="788.6" y="550.28" text-anchor="middle">10</text>
</g>
<path d="M700.6 524.9H788.6" stroke="#555" stroke-width="1.4"/>
<path d="M700.6 523.45 L710.38 522.25 L720.16 520.4 L729.93 523.85 L739.71 523.45 L749.49 519.74 L759.27 516.29 L769.04 515.23 L778.82 515.23 L788.6 515.23" stroke="#cc4450" stroke-width="1.2" fill="none" stroke-dasharray="3 2.3"/>
<path d="M700.6 525.5 L710.38 528.62 L720.16 530.67 L729.93 534.51 L739.71 537.62 L749.49 536.57 L759.27 534.11 L769.04 533.72 L778.82 535.17 L788.6 537.16" stroke="#cc4450" stroke-width="1.2" fill="none" stroke-dasharray="3 2.3"/>
<path d="M700.6 524.9 L710.38 524.9 L720.16 525.5 L729.93 529.01 L739.71 530.4 L749.49 529.01 L759.27 525.97 L769.04 524.9 L778.82 525.5 L788.6 526.5" stroke="#3434b4" stroke-width="1.35" fill="none"/>
<rect x="700.6" y="491.78" width="88" height="53" fill="none" stroke="#000" stroke-width="1.4"/>
<text x="810.25" y="487.18" font-family="Liberation Sans, sans-serif" font-size="6.2" fill="#1a1a1a" stroke="#1a1a1a" stroke-width="0.05" textLength="101.99" lengthAdjust="spacing">Response of L_CSR_SA to VPIL</text>
<path d="M812.9 491.78h-2M812.9 498.41h-2M812.9 505.03h-2M812.9 511.66h-2M812.9 518.28h-2M812.9 524.9h-2M812.9 531.53h-2M812.9 538.15h-2M812.9 544.78h-2M812.9 544.78v2.5M822.68 544.78v2.5M832.46 544.78v2.5M842.23 544.78v2.5M852.01 544.78v2.5M861.79 544.78v2.5M871.57 544.78v2.5M881.34 544.78v2.5M891.12 544.78v2.5M900.9 544.78v2.5" stroke="#000" stroke-width="1" fill="none"/>
<g font-family="Liberation Sans, sans-serif" font-size="3.4" fill="#4a4a4a">
<text x="810.4" y="492.78" text-anchor="end">.05</text>
<text x="810.4" y="499.41" text-anchor="end">.04</text>
<text x="810.4" y="506.03" text-anchor="end">.03</text>
<text x="810.4" y="512.65" text-anchor="end">.02</text>
<text x="810.4" y="519.28" text-anchor="end">.01</text>
<text x="810.4" y="525.9" text-anchor="end">.00</text>
<text x="810.4" y="532.53" text-anchor="end">-.01</text>
<text x="810.4" y="539.15" text-anchor="end">-.02</text>
<text x="810.4" y="545.78" text-anchor="end">-.03</text>
<text x="812.9" y="550.28" text-anchor="middle">1</text>
<text x="822.68" y="550.28" text-anchor="middle">2</text>
<text x="832.46" y="550.28" text-anchor="middle">3</text>
<text x="842.23" y="550.28" text-anchor="middle">4</text>
<text x="852.01" y="550.28" text-anchor="middle">5</text>
<text x="861.79" y="550.28" text-anchor="middle">6</text>
<text x="871.57" y="550.28" text-anchor="middle">7</text>
<text x="881.34" y="550.28" text-anchor="middle">8</text>
<text x="891.12" y="550.28" text-anchor="middle">9</text>
<text x="900.9" y="550.28" text-anchor="middle">10</text>
</g>
<path d="M812.9 524.9H900.9" stroke="#555" stroke-width="1.4"/>
<path d="M812.9 524.84 L822.68 524.44 L832.46 522.25 L842.23 520.33 L852.01 521 L861.79 523.91 L871.57 523.38 L881.34 522.52 L891.12 521.2 L900.9 519.61" stroke="#cc4450" stroke-width="1.2" fill="none" stroke-dasharray="3 2.3"/>
<path d="M812.9 524.84 L822.68 530.87 L832.46 531.93 L842.23 532.99 L852.01 537.1 L861.79 538.42 L871.57 535.17 L881.34 532.99 L891.12 531.93 L900.9 530.87" stroke="#cc4450" stroke-width="1.2" fill="none" stroke-dasharray="3 2.3"/>
<path d="M812.9 524.84 L822.68 527.62 L832.46 526.83 L842.23 526.03 L852.01 530.34 L861.79 531.46 L871.57 529.28 L881.34 527.62 L891.12 526.03 L900.9 524.97" stroke="#3434b4" stroke-width="1.35" fill="none"/>
<rect x="812.9" y="491.78" width="88" height="53" fill="none" stroke="#000" stroke-width="1.4"/>
<text x="130.79" y="563.55" font-family="Liberation Sans, sans-serif" font-size="6.2" fill="#1a1a1a" stroke="#1a1a1a" stroke-width="0.05" textLength="113.31" lengthAdjust="spacing">Response of IPCL_SA to L_CRNGR</text>
<path d="M139.1 568.15h-2M139.1 576.98h-2M139.1 585.82h-2M139.1 594.65h-2M139.1 603.48h-2M139.1 612.32h-2M139.1 621.15h-2M139.1 621.15v2.5M148.88 621.15v2.5M158.66 621.15v2.5M168.43 621.15v2.5M178.21 621.15v2.5M187.99 621.15v2.5M197.77 621.15v2.5M207.54 621.15v2.5M217.32 621.15v2.5M227.1 621.15v2.5" stroke="#000" stroke-width="1" fill="none"/>
<g font-family="Liberation Sans, sans-serif" font-size="3.4" fill="#4a4a4a">
<text x="136.6" y="569.15" text-anchor="end">1.2</text>
<text x="136.6" y="577.98" text-anchor="end">0.9</text>
<text x="136.6" y="586.82" text-anchor="end">0.6</text>
<text x="136.6" y="595.65" text-anchor="end">0.3</text>
<text x="136.6" y="604.48" text-anchor="end">0.0</text>
<text x="136.6" y="613.32" text-anchor="end">-0.3</text>
<text x="136.6" y="622.15" text-anchor="end">-0.6</text>
<text x="139.1" y="626.65" text-anchor="middle">1</text>
<text x="148.88" y="626.65" text-anchor="middle">2</text>
<text x="158.66" y="626.65" text-anchor="middle">3</text>
<text x="168.43" y="626.65" text-anchor="middle">4</text>
<text x="178.21" y="626.65" text-anchor="middle">5</text>
<text x="187.99" y="626.65" text-anchor="middle">6</text>
<text x="197.77" y="626.65" text-anchor="middle">7</text>
<text x="207.54" y="626.65" text-anchor="middle">8</text>
<text x="217.32" y="626.65" text-anchor="middle">9</text>
<text x="227.1" y="626.65" text-anchor="middle">10</text>
</g>
<path d="M139.1 603.48H227.1" stroke="#333" stroke-width="1.2"/>
<path d="M139.1 612.58 L148.88 594.74 L158.66 596.42 L168.43 600.3 L178.21 594.3 L187.99 596.77 L197.77 596.42 L207.54 596.77 L217.32 597.39 L227.1 596.77" stroke="#cc4450" stroke-width="1.2" fill="none" stroke-dasharray="3 2.3"/>
<path d="M139.1 620.36 L148.88 605.6 L158.66 609.05 L168.43 614.17 L178.21 609.05 L187.99 610.55 L197.77 608.43 L207.54 608.43 L217.32 607.64 L227.1 606.66" stroke="#cc4450" stroke-width="1.2" fill="none" stroke-dasharray="3 2.3"/>
<path d="M139.1 616.29 L148.88 599.86 L158.66 602.51 L168.43 607.46 L178.21 601.54 L187.99 603.57 L197.77 602.95 L207.54 602.95 L217.32 602.95 L227.1 601.89" stroke="#3434b4" stroke-width="1.35" fill="none"/>
<rect x="139.1" y="568.15" width="88" height="53" fill="none" stroke="#000" stroke-width="1.4"/>
<text x="242.31" y="563.55" font-family="Liberation Sans, sans-serif" font-size="6.2" fill="#1a1a1a" stroke="#1a1a1a" stroke-width="0.05" textLength="114.89" lengthAdjust="spacing">Response of IPCL_SA to L_BZR_SA</text>
<path d="M251.4 568.15h-2M251.4 576.98h-2M251.4 585.82h-2M251.4 594.65h-2M251.4 603.48h-2M251.4 612.32h-2M251.4 621.15h-2M251.4 621.15v2.5M261.18 621.15v2.5M270.96 621.15v2.5M280.73 621.15v2.5M290.51 621.15v2.5M300.29 621.15v2.5M310.07 621.15v2.5M319.84 621.15v2.5M329.62 621.15v2.5M339.4 621.15v2.5" stroke="#000" stroke-width="1" fill="none"/>
<g font-family="Liberation Sans, sans-serif" font-size="3.4" fill="#4a4a4a">
<text x="248.9" y="569.15" text-anchor="end">1.2</text>
<text x="248.9" y="577.98" text-anchor="end">0.9</text>
<text x="248.9" y="586.82" text-anchor="end">0.6</text>
<text x="248.9" y="595.65" text-anchor="end">0.3</text>
<text x="248.9" y="604.48" text-anchor="end">0.0</text>
<text x="248.9" y="613.32" text-anchor="end">-0.3</text>
<text x="248.9" y="622.15" text-anchor="end">-0.6</text>
<text x="251.4" y="626.65" text-anchor="middle">1</text>
<text x="261.18" y="626.65" text-anchor="middle">2</text>
<text x="270.96" y="626.65" text-anchor="middle">3</text>
<text x="280.73" y="626.65" text-anchor="middle">4</text>
<text x="290.51" y="626.65" text-anchor="middle">5</text>
<text x="300.29" y="626.65" text-anchor="middle">6</text>
<text x="310.07" y="626.65" text-anchor="middle">7</text>
<text x="319.84" y="626.65" text-anchor="middle">8</text>
<text x="329.62" y="626.65" text-anchor="middle">9</text>
<text x="339.4" y="626.65" text-anchor="middle">10</text>
</g>
<path d="M251.4 603.48H339.4" stroke="#333" stroke-width="1.2"/>
<path d="M251.4 607.02 L261.18 601.89 L270.96 598.18 L280.73 595.18 L290.51 600.92 L300.29 602.51 L310.07 599.42 L319.84 599.42 L329.62 594.74 L339.4 594.3" stroke="#cc4450" stroke-width="1.2" fill="none" stroke-dasharray="3 2.3"/>
<path d="M251.4 614.61 L261.18 613.2 L270.96 611.79 L280.73 609.67 L290.51 616.29 L300.29 617.26 L310.07 611.79 L319.84 610.55 L329.62 604.37 L339.4 602.95" stroke="#cc4450" stroke-width="1.2" fill="none" stroke-dasharray="3 2.3"/>
<path d="M251.4 610.55 L261.18 607.64 L270.96 604.99 L280.73 602.51 L290.51 608.7 L300.29 610.11 L310.07 605.43 L319.84 605.43 L329.62 599.86 L339.4 598.18" stroke="#3434b4" stroke-width="1.35" fill="none"/>
<rect x="251.4" y="568.15" width="88" height="53" fill="none" stroke="#000" stroke-width="1.4"/>
<text x="354.22" y="563.55" font-family="Liberation Sans, sans-serif" font-size="6.2" fill="#1a1a1a" stroke="#1a1a1a" stroke-width="0.05" textLength="115.67" lengthAdjust="spacing">Response of IPCL_SA to L_M1R_SA</text>
<path d="M363.7 568.15h-2M363.7 576.98h-2M363.7 585.82h-2M363.7 594.65h-2M363.7 603.48h-2M363.7 612.32h-2M363.7 621.15h-2M363.7 621.15v2.5M373.48 621.15v2.5M383.26 621.15v2.5M393.03 621.15v2.5M402.81 621.15v2.5M412.59 621.15v2.5M422.37 621.15v2.5M432.14 621.15v2.5M441.92 621.15v2.5M451.7 621.15v2.5" stroke="#000" stroke-width="1" fill="none"/>
<g font-family="Liberation Sans, sans-serif" font-size="3.4" fill="#4a4a4a">
<text x="361.2" y="569.15" text-anchor="end">1.2</text>
<text x="361.2" y="577.98" text-anchor="end">0.9</text>
<text x="361.2" y="586.82" text-anchor="end">0.6</text>
<text x="361.2" y="595.65" text-anchor="end">0.3</text>
<text x="361.2" y="604.48" text-anchor="end">0.0</text>
<text x="361.2" y="613.32" text-anchor="end">-0.3</text>
<text x="361.2" y="622.15" text-anchor="end">-0.6</text>
<text x="363.7" y="626.65" text-anchor="middle">1</text>
<text x="373.48" y="626.65" text-anchor="middle">2</text>
<text x="383.26" y="626.65" text-anchor="middle">3</text>
<text x="393.03" y="626.65" text-anchor="middle">4</text>
<text x="402.81" y="626.65" text-anchor="middle">5</text>
<text x="412.59" y="626.65" text-anchor="middle">6</text>
<text x="422.37" y="626.65" text-anchor="middle">7</text>
<text x="432.14" y="626.65" text-anchor="middle">8</text>
<text x="441.92" y="626.65" text-anchor="middle">9</text>
<text x="451.7" y="626.65" text-anchor="middle">10</text>
</g>
<path d="M363.7 603.48H451.7" stroke="#333" stroke-width="1.2"/>
<path d="M363.7 602.51 L373.48 600.92 L383.26 601.89 L393.03 599.86 L402.81 594.12 L412.59 597.83 L422.37 598.8 L432.14 598.18 L441.92 599.42 L451.7 600.3" stroke="#cc4450" stroke-width="1.2" fill="none" stroke-dasharray="3 2.3"/>
<path d="M363.7 610.55 L373.48 611.79 L383.26 615.23 L393.03 613.82 L402.81 608.43 L412.59 611.17 L422.37 612.58 L432.14 610.55 L441.92 610.55 L451.7 610.55" stroke="#cc4450" stroke-width="1.2" fill="none" stroke-dasharray="3 2.3"/>
<path d="M363.7 607.02 L373.48 606.4 L383.26 608.43 L393.03 607.02 L402.81 600.92 L412.59 604.37 L422.37 606.05 L432.14 604.37 L441.92 604.99 L451.7 604.99" stroke="#3434b4" stroke-width="1.35" fill="none"/>
<rect x="363.7" y="568.15" width="88" height="53" fill="none" stroke="#000" stroke-width="1.4"/>
<text x="470.42" y="563.55" font-family="Liberation Sans, sans-serif" font-size="6.2" fill="#1a1a1a" stroke="#1a1a1a" stroke-width="0.05" textLength="107.85" lengthAdjust="spacing">Response of IPCL_SA to DAR_SA</text>
<path d="M476 568.15h-2M476 576.98h-2M476 585.82h-2M476 594.65h-2M476 603.48h-2M476 612.32h-2M476 621.15h-2M476 621.15v2.5M485.78 621.15v2.5M495.56 621.15v2.5M505.33 621.15v2.5M515.11 621.15v2.5M524.89 621.15v2.5M534.67 621.15v2.5M544.44 621.15v2.5M554.22 621.15v2.5M564 621.15v2.5" stroke="#000" stroke-width="1" fill="none"/>
<g font-family="Liberation Sans, sans-serif" font-size="3.4" fill="#4a4a4a">
<text x="473.5" y="569.15" text-anchor="end">1.2</text>
<text x="473.5" y="577.98" text-anchor="end">0.9</text>
<text x="473.5" y="586.82" text-anchor="end">0.6</text>
<text x="473.5" y="595.65" text-anchor="end">0.3</text>
<text x="473.5" y="604.48" text-anchor="end">0.0</text>
<text x="473.5" y="613.32" text-anchor="end">-0.3</text>
<text x="473.5" y="622.15" text-anchor="end">-0.6</text>
<text x="476" y="626.65" text-anchor="middle">1</text>
<text x="485.78" y="626.65" text-anchor="middle">2</text>
<text x="495.56" y="626.65" text-anchor="middle">3</text>
<text x="505.33" y="626.65" text-anchor="middle">4</text>
<text x="515.11" y="626.65" text-anchor="middle">5</text>
<text x="524.89" y="626.65" text-anchor="middle">6</text>
<text x="534.67" y="626.65" text-anchor="middle">7</text>
<text x="544.44" y="626.65" text-anchor="middle">8</text>
<text x="554.22" y="626.65" text-anchor="middle">9</text>
<text x="564" y="626.65" text-anchor="middle">10</text>
</g>
<path d="M476 603.48H564" stroke="#333" stroke-width="1.2"/>
<path d="M476 598.8 L485.78 594.74 L495.56 599.42 L505.33 597.83 L515.11 596.15 L524.89 599.42 L534.67 597.39 L544.44 597.83 L554.22 599.42 L564 598.8" stroke="#cc4450" stroke-width="1.2" fill="none" stroke-dasharray="3 2.3"/>
<path d="M476 605.6 L485.78 604.99 L495.56 612.14 L505.33 611.17 L515.11 609.05 L524.89 611.79 L534.67 608.43 L544.44 609.05 L554.22 610.55 L564 609.05" stroke="#cc4450" stroke-width="1.2" fill="none" stroke-dasharray="3 2.3"/>
<path d="M476 602.51 L485.78 600.48 L495.56 606.4 L505.33 604.99 L515.11 602.95 L524.89 606.05 L534.67 602.95 L544.44 603.57 L554.22 604.99 L564 603.57" stroke="#3434b4" stroke-width="1.35" fill="none"/>
<rect x="476" y="568.15" width="88" height="53" fill="none" stroke="#000" stroke-width="1.4"/>
<text x="578.82" y="563.55" font-family="Liberation Sans, sans-serif" font-size="6.2" fill="#1a1a1a" stroke="#1a1a1a" stroke-width="0.05" textLength="115.67" lengthAdjust="spacing">Response of IPCL_SA to L_CSR_SA</text>
<path d="M588.3 568.15h-2M588.3 576.98h-2M588.3 585.82h-2M588.3 594.65h-2M588.3 603.48h-2M588.3 612.32h-2M588.3 621.15h-2M588.3 621.15v2.5M598.08 621.15v2.5M607.86 621.15v2.5M617.63 621.15v2.5M627.41 621.15v2.5M637.19 621.15v2.5M646.97 621.15v2.5M656.74 621.15v2.5M666.52 621.15v2.5M676.3 621.15v2.5" stroke="#000" stroke-width="1" fill="none"/>
<g font-family="Liberation Sans, sans-serif" font-size="3.4" fill="#4a4a4a">
<text x="585.8" y="569.15" text-anchor="end">1.2</text>
<text x="585.8" y="577.98" text-anchor="end">0.9</text>
<text x="585.8" y="586.82" text-anchor="end">0.6</text>
<text x="585.8" y="595.65" text-anchor="end">0.3</text>
<text x="585.8" y="604.48" text-anchor="end">0.0</text>
<text x="585.8" y="613.32" text-anchor="end">-0.3</text>
<text x="585.8" y="622.15" text-anchor="end">-0.6</text>
<text x="588.3" y="626.65" text-anchor="middle">1</text>
<text x="598.08" y="626.65" text-anchor="middle">2</text>
<text x="607.86" y="626.65" text-anchor="middle">3</text>
<text x="617.63" y="626.65" text-anchor="middle">4</text>
<text x="627.41" y="626.65" text-anchor="middle">5</text>
<text x="637.19" y="626.65" text-anchor="middle">6</text>
<text x="646.97" y="626.65" text-anchor="middle">7</text>
<text x="656.74" y="626.65" text-anchor="middle">8</text>
<text x="666.52" y="626.65" text-anchor="middle">9</text>
<text x="676.3" y="626.65" text-anchor="middle">10</text>
</g>
<path d="M588.3 603.48H676.3" stroke="#333" stroke-width="1.2"/>
<path d="M588.3 600.3 L598.08 587.58 L607.86 580.34 L617.63 584.49 L627.41 589.62 L637.19 593.68 L646.97 596.77 L656.74 597.39 L666.52 593.68 L676.3 591.65" stroke="#cc4450" stroke-width="1.2" fill="none" stroke-dasharray="3 2.3"/>
<path d="M588.3 608.08 L598.08 598.8 L607.86 592.71 L617.63 597.39 L627.41 602.95 L637.19 608.08 L646.97 610.55 L656.74 610.55 L666.52 606.05 L676.3 604.37" stroke="#cc4450" stroke-width="1.2" fill="none" stroke-dasharray="3 2.3"/>
<path d="M588.3 603.93 L598.08 592.71 L607.86 586.08 L617.63 590.68 L627.41 596.77 L637.19 600.92 L646.97 603.93 L656.74 603.93 L666.52 599.86 L676.3 597.83" stroke="#3434b4" stroke-width="1.35" fill="none"/>
<rect x="588.3" y="568.15" width="88" height="53" fill="none" stroke="#000" stroke-width="1.4"/>
<text x="694.63" y="563.55" font-family="Liberation Sans, sans-serif" font-size="6.2" fill="#1a1a1a" stroke="#1a1a1a" stroke-width="0.05" textLength="108.64" lengthAdjust="spacing">Response of IPCL_SA to IPCL_SA</text>
<path d="M700.6 568.15h-2M700.6 576.98h-2M700.6 585.82h-2M700.6 594.65h-2M700.6 603.48h-2M700.6 612.32h-2M700.6 621.15h-2M700.6 621.15v2.5M710.38 621.15v2.5M720.16 621.15v2.5M729.93 621.15v2.5M739.71 621.15v2.5M749.49 621.15v2.5M759.27 621.15v2.5M769.04 621.15v2.5M778.82 621.15v2.5M788.6 621.15v2.5" stroke="#000" stroke-width="1" fill="none"/>
<g font-family="Liberation Sans, sans-serif" font-size="3.4" fill="#4a4a4a">
<text x="698.1" y="569.15" text-anchor="end">1.2</text>
<text x="698.1" y="577.98" text-anchor="end">0.9</text>
<text x="698.1" y="586.82" text-anchor="end">0.6</text>
<text x="698.1" y="595.65" text-anchor="end">0.3</text>
<text x="698.1" y="604.48" text-anchor="end">0.0</text>
<text x="698.1" y="613.32" text-anchor="end">-0.3</text>
<text x="698.1" y="622.15" text-anchor="end">-0.6</text>
<text x="700.6" y="626.65" text-anchor="middle">1</text>
<text x="710.38" y="626.65" text-anchor="middle">2</text>
<text x="720.16" y="626.65" text-anchor="middle">3</text>
<text x="729.93" y="626.65" text-anchor="middle">4</text>
<text x="739.71" y="626.65" text-anchor="middle">5</text>
<text x="749.49" y="626.65" text-anchor="middle">6</text>
<text x="759.27" y="626.65" text-anchor="middle">7</text>
<text x="769.04" y="626.65" text-anchor="middle">8</text>
<text x="778.82" y="626.65" text-anchor="middle">9</text>
<text x="788.6" y="626.65" text-anchor="middle">10</text>
</g>
<path d="M700.6 603.48H788.6" stroke="#333" stroke-width="1.2"/>
<path d="M700.6 576.28 L710.38 580.96 L720.16 583.43 L729.93 586.52 L739.71 594.74 L749.49 600.92 L759.27 597.83 L769.04 595.36 L778.82 595.36 L788.6 596.77" stroke="#cc4450" stroke-width="1.2" fill="none" stroke-dasharray="3 2.3"/>
<path d="M700.6 581.4 L710.38 590.06 L720.16 593.68 L729.93 598.18 L739.71 608.08 L749.49 615.23 L759.27 611.79 L769.04 608.43 L778.82 608.08 L788.6 608.43" stroke="#cc4450" stroke-width="1.2" fill="none" stroke-dasharray="3 2.3"/>
<path d="M700.6 578.93 L710.38 585.46 L720.16 588.56 L729.93 592.71 L739.71 601.89 L749.49 608.08 L759.27 605.6 L769.04 603.57 L778.82 601.89 L788.6 602.95" stroke="#3434b4" stroke-width="1.35" fill="none"/>
<rect x="700.6" y="568.15" width="88" height="53" fill="none" stroke="#000" stroke-width="1.4"/>
<text x="813.77" y="563.55" font-family="Liberation Sans, sans-serif" font-size="6.2" fill="#1a1a1a" stroke="#1a1a1a" stroke-width="0.05" textLength="94.96" lengthAdjust="spacing">Response of IPCL_SA to VPIL</text>
<path d="M812.9 568.15h-2M812.9 576.98h-2M812.9 585.82h-2M812.9 594.65h-2M812.9 603.48h-2M812.9 612.32h-2M812.9 621.15h-2M812.9 621.15v2.5M822.68 621.15v2.5M832.46 621.15v2.5M842.23 621.15v2.5M852.01 621.15v2.5M861.79 621.15v2.5M871.57 621.15v2.5M881.34 621.15v2.5M891.12 621.15v2.5M900.9 621.15v2.5" stroke="#000" stroke-width="1" fill="none"/>
<g font-family="Liberation Sans, sans-serif" font-size="3.4" fill="#4a4a4a">
<text x="810.4" y="569.15" text-anchor="end">1.2</text>
<text x="810.4" y="577.98" text-anchor="end">0.9</text>
<text x="810.4" y="586.82" text-anchor="end">0.6</text>
<text x="810.4" y="595.65" text-anchor="end">0.3</text>
<text x="810.4" y="604.48" text-anchor="end">0.0</text>
<text x="810.4" y="613.32" text-anchor="end">-0.3</text>
<text x="810.4" y="622.15" text-anchor="end">-0.6</text>
<text x="812.9" y="626.65" text-anchor="middle">1</text>
<text x="822.68" y="626.65" text-anchor="middle">2</text>
<text x="832.46" y="626.65" text-anchor="middle">3</text>
<text x="842.23" y="626.65" text-anchor="middle">4</text>
<text x="852.01" y="626.65" text-anchor="middle">5</text>
<text x="861.79" y="626.65" text-anchor="middle">6</text>
<text x="871.57" y="626.65" text-anchor="middle">7</text>
<text x="881.34" y="626.65" text-anchor="middle">8</text>
<text x="891.12" y="626.65" text-anchor="middle">9</text>
<text x="900.9" y="626.65" text-anchor="middle">10</text>
</g>
<path d="M812.9 603.48H900.9" stroke="#333" stroke-width="1.2"/>
<path d="M812.9 603.13 L822.68 595.62 L832.46 595.62 L842.23 595.62 L852.01 592.44 L861.79 595.09 L871.57 598.89 L881.34 600.22 L891.12 601.54 L900.9 601.54" stroke="#cc4450" stroke-width="1.2" fill="none" stroke-dasharray="3 2.3"/>
<path d="M812.9 603.13 L822.68 605.25 L832.46 607.11 L842.23 608.52 L852.01 605.25 L861.79 607.72 L871.57 611.17 L881.34 609.58 L891.12 609.93 L900.9 609.05" stroke="#cc4450" stroke-width="1.2" fill="none" stroke-dasharray="3 2.3"/>
<path d="M812.9 603.13 L822.68 600.22 L832.46 601.36 L842.23 602.6 L852.01 598.54 L861.79 602.07 L871.57 605.25 L881.34 605.25 L891.12 606.05 L900.9 605.6" stroke="#3434b4" stroke-width="1.35" fill="none"/>
<rect x="812.9" y="568.15" width="88" height="53" fill="none" stroke="#000" stroke-width="1.4"/>
<text x="137.57" y="639.92" font-family="Liberation Sans, sans-serif" font-size="6.2" fill="#1a1a1a" stroke="#1a1a1a" stroke-width="0.05" textLength="99.77" lengthAdjust="spacing">Response of VPIL to L_CRNGR</text>
<path d="M139.1 644.52h-2M139.1 653.35h-2M139.1 662.19h-2M139.1 671.02h-2M139.1 679.85h-2M139.1 688.69h-2M139.1 697.52h-2M139.1 697.52v2.5M148.88 697.52v2.5M158.66 697.52v2.5M168.43 697.52v2.5M178.21 697.52v2.5M187.99 697.52v2.5M197.77 697.52v2.5M207.54 697.52v2.5M217.32 697.52v2.5M227.1 697.52v2.5" stroke="#000" stroke-width="1" fill="none"/>
<g font-family="Liberation Sans, sans-serif" font-size="3.4" fill="#4a4a4a">
<text x="136.6" y="645.52" text-anchor="end">8</text>
<text x="136.6" y="654.35" text-anchor="end">6</text>
<text x="136.6" y="663.19" text-anchor="end">4</text>
<text x="136.6" y="672.02" text-anchor="end">2</text>
<text x="136.6" y="680.85" text-anchor="end">0</text>
<text x="136.6" y="689.69" text-anchor="end">-2</text>
<text x="136.6" y="698.52" text-anchor="end">-4</text>
<text x="139.1" y="703.02" text-anchor="middle">1</text>
<text x="148.88" y="703.02" text-anchor="middle">2</text>
<text x="158.66" y="703.02" text-anchor="middle">3</text>
<text x="168.43" y="703.02" text-anchor="middle">4</text>
<text x="178.21" y="703.02" text-anchor="middle">5</text>
<text x="187.99" y="703.02" text-anchor="middle">6</text>
<text x="197.77" y="703.02" text-anchor="middle">7</text>
<text x="207.54" y="703.02" text-anchor="middle">8</text>
<text x="217.32" y="703.02" text-anchor="middle">9</text>
<text x="227.1" y="703.02" text-anchor="middle">10</text>
</g>
<path d="M139.1 679.85H227.1" stroke="#505050" stroke-width="1.3"/>
<path d="M139.1 673.4 L148.88 671.37 L158.66 676.85 L168.43 677.91 L178.21 676.85 L187.99 673.4 L197.77 674.2 L207.54 675.88 L217.32 677.91 L227.1 677.47" stroke="#cc4450" stroke-width="1.2" fill="none" stroke-dasharray="3 2.3"/>
<path d="M139.1 681.62 L148.88 680.38 L158.66 686.04 L168.43 687.71 L178.21 686.12 L187.99 683.03 L197.77 681.97 L207.54 681.97 L217.32 684.45 L227.1 682.41" stroke="#cc4450" stroke-width="1.2" fill="none" stroke-dasharray="3 2.3"/>
<path d="M139.1 677.91 L148.88 676.23 L158.66 681 L168.43 683.03 L178.21 681.97 L187.99 678.97 L197.77 678.35 L207.54 678.97 L217.32 681 L227.1 679.59" stroke="#3434b4" stroke-width="1.35" fill="none"/>
<rect x="139.1" y="644.52" width="88" height="53" fill="none" stroke="#000" stroke-width="1.4"/>
<text x="249.08" y="639.92" font-family="Liberation Sans, sans-serif" font-size="6.2" fill="#1a1a1a" stroke="#1a1a1a" stroke-width="0.05" textLength="101.34" lengthAdjust="spacing">Response of VPIL to L_BZR_SA</text>
<path d="M251.4 644.52h-2M251.4 653.35h-2M251.4 662.19h-2M251.4 671.02h-2M251.4 679.85h-2M251.4 688.69h-2M251.4 697.52h-2M251.4 697.52v2.5M261.18 697.52v2.5M270.96 697.52v2.5M280.73 697.52v2.5M290.51 697.52v2.5M300.29 697.52v2.5M310.07 697.52v2.5M319.84 697.52v2.5M329.62 697.52v2.5M339.4 697.52v2.5" stroke="#000" stroke-width="1" fill="none"/>
<g font-family="Liberation Sans, sans-serif" font-size="3.4" fill="#4a4a4a">
<text x="248.9" y="645.52" text-anchor="end">8</text>
<text x="248.9" y="654.35" text-anchor="end">6</text>
<text x="248.9" y="663.19" text-anchor="end">4</text>
<text x="248.9" y="672.02" text-anchor="end">2</text>
<text x="248.9" y="680.85" text-anchor="end">0</text>
<text x="248.9" y="689.69" text-anchor="end">-2</text>
<text x="248.9" y="698.52" text-anchor="end">-4</text>
<text x="251.4" y="703.02" text-anchor="middle">1</text>
<text x="261.18" y="703.02" text-anchor="middle">2</text>
<text x="270.96" y="703.02" text-anchor="middle">3</text>
<text x="280.73" y="703.02" text-anchor="middle">4</text>
<text x="290.51" y="703.02" text-anchor="middle">5</text>
<text x="300.29" y="703.02" text-anchor="middle">6</text>
<text x="310.07" y="703.02" text-anchor="middle">7</text>
<text x="319.84" y="703.02" text-anchor="middle">8</text>
<text x="329.62" y="703.02" text-anchor="middle">9</text>
<text x="339.4" y="703.02" text-anchor="middle">10</text>
</g>
<path d="M251.4 679.85H339.4" stroke="#505050" stroke-width="1.3"/>
<path d="M251.4 675.44 L261.18 671.37 L270.96 674.2 L280.73 673.76 L290.51 673.76 L300.29 675.88 L310.07 674.82 L319.84 674.82 L329.62 675.88 L339.4 676.23" stroke="#cc4450" stroke-width="1.2" fill="none" stroke-dasharray="3 2.3"/>
<path d="M251.4 683.65 L261.18 679.94 L270.96 684.45 L280.73 684.45 L290.51 684 L300.29 685.68 L310.07 683.03 L319.84 681.62 L329.62 681.62 L339.4 681" stroke="#cc4450" stroke-width="1.2" fill="none" stroke-dasharray="3 2.3"/>
<path d="M251.4 679.59 L261.18 675.44 L270.96 678.97 L280.73 679.59 L290.51 678.97 L300.29 680.38 L310.07 678.97 L319.84 678.53 L329.62 678.97 L339.4 678.97" stroke="#3434b4" stroke-width="1.35" fill="none"/>
<rect x="251.4" y="644.52" width="88" height="53" fill="none" stroke="#000" stroke-width="1.4"/>
<text x="360.99" y="639.92" font-family="Liberation Sans, sans-serif" font-size="6.2" fill="#1a1a1a" stroke="#1a1a1a" stroke-width="0.05" textLength="102.12" lengthAdjust="spacing">Response of VPIL to L_M1R_SA</text>
<path d="M363.7 644.52h-2M363.7 653.35h-2M363.7 662.19h-2M363.7 671.02h-2M363.7 679.85h-2M363.7 688.69h-2M363.7 697.52h-2M363.7 697.52v2.5M373.48 697.52v2.5M383.26 697.52v2.5M393.03 697.52v2.5M402.81 697.52v2.5M412.59 697.52v2.5M422.37 697.52v2.5M432.14 697.52v2.5M441.92 697.52v2.5M451.7 697.52v2.5" stroke="#000" stroke-width="1" fill="none"/>
<g font-family="Liberation Sans, sans-serif" font-size="3.4" fill="#4a4a4a">
<text x="361.2" y="645.52" text-anchor="end">8</text>
<text x="361.2" y="654.35" text-anchor="end">6</text>
<text x="361.2" y="663.19" text-anchor="end">4</text>
<text x="361.2" y="672.02" text-anchor="end">2</text>
<text x="361.2" y="680.85" text-anchor="end">0</text>
<text x="361.2" y="689.69" text-anchor="end">-2</text>
<text x="361.2" y="698.52" text-anchor="end">-4</text>
<text x="363.7" y="703.02" text-anchor="middle">1</text>
<text x="373.48" y="703.02" text-anchor="middle">2</text>
<text x="383.26" y="703.02" text-anchor="middle">3</text>
<text x="393.03" y="703.02" text-anchor="middle">4</text>
<text x="402.81" y="703.02" text-anchor="middle">5</text>
<text x="412.59" y="703.02" text-anchor="middle">6</text>
<text x="422.37" y="703.02" text-anchor="middle">7</text>
<text x="432.14" y="703.02" text-anchor="middle">8</text>
<text x="441.92" y="703.02" text-anchor="middle">9</text>
<text x="451.7" y="703.02" text-anchor="middle">10</text>
</g>
<path d="M363.7 679.85H451.7" stroke="#505050" stroke-width="1.3"/>
<path d="M363.7 674.29 L373.48 674.29 L383.26 670.75 L393.03 677.91 L402.81 672.17 L412.59 674.29 L422.37 675.88 L432.14 676.85 L441.92 677.47 L451.7 676.85" stroke="#cc4450" stroke-width="1.2" fill="none" stroke-dasharray="3 2.3"/>
<path d="M363.7 682.06 L373.48 683.65 L383.26 680.38 L393.03 688.16 L402.81 683.03 L412.59 684.45 L422.37 684.45 L432.14 683.65 L441.92 683.03 L451.7 681.62" stroke="#cc4450" stroke-width="1.2" fill="none" stroke-dasharray="3 2.3"/>
<path d="M363.7 678.53 L373.48 678.97 L383.26 675.44 L393.03 683.65 L402.81 677.47 L412.59 678.97 L422.37 679.59 L432.14 679.94 L441.92 679.94 L451.7 679.59" stroke="#3434b4" stroke-width="1.35" fill="none"/>
<rect x="363.7" y="644.52" width="88" height="53" fill="none" stroke="#000" stroke-width="1.4"/>
<text x="477.2" y="639.92" font-family="Liberation Sans, sans-serif" font-size="6.2" fill="#1a1a1a" stroke="#1a1a1a" stroke-width="0.05" textLength="94.3" lengthAdjust="spacing">Response of VPIL to DAR_SA</text>
<path d="M476 644.52h-2M476 653.35h-2M476 662.19h-2M476 671.02h-2M476 679.85h-2M476 688.69h-2M476 697.52h-2M476 697.52v2.5M485.78 697.52v2.5M495.56 697.52v2.5M505.33 697.52v2.5M515.11 697.52v2.5M524.89 697.52v2.5M534.67 697.52v2.5M544.44 697.52v2.5M554.22 697.52v2.5M564 697.52v2.5" stroke="#000" stroke-width="1" fill="none"/>
<g font-family="Liberation Sans, sans-serif" font-size="3.4" fill="#4a4a4a">
<text x="473.5" y="645.52" text-anchor="end">8</text>
<text x="473.5" y="654.35" text-anchor="end">6</text>
<text x="473.5" y="663.19" text-anchor="end">4</text>
<text x="473.5" y="672.02" text-anchor="end">2</text>
<text x="473.5" y="680.85" text-anchor="end">0</text>
<text x="473.5" y="689.69" text-anchor="end">-2</text>
<text x="473.5" y="698.52" text-anchor="end">-4</text>
<text x="476" y="703.02" text-anchor="middle">1</text>
<text x="485.78" y="703.02" text-anchor="middle">2</text>
<text x="495.56" y="703.02" text-anchor="middle">3</text>
<text x="505.33" y="703.02" text-anchor="middle">4</text>
<text x="515.11" y="703.02" text-anchor="middle">5</text>
<text x="524.89" y="703.02" text-anchor="middle">6</text>
<text x="534.67" y="703.02" text-anchor="middle">7</text>
<text x="544.44" y="703.02" text-anchor="middle">8</text>
<text x="554.22" y="703.02" text-anchor="middle">9</text>
<text x="564" y="703.02" text-anchor="middle">10</text>
</g>
<path d="M476 679.85H564" stroke="#505050" stroke-width="1.3"/>
<path d="M476 674.82 L485.78 674.2 L495.56 675.44 L505.33 674.82 L515.11 676.85 L524.89 676.23 L534.67 676.85 L544.44 677.47 L554.22 677.47 L564 677.91" stroke="#cc4450" stroke-width="1.2" fill="none" stroke-dasharray="3 2.3"/>
<path d="M476 683.03 L485.78 683.65 L495.56 684.45 L505.33 684 L515.11 685.06 L524.89 683.03 L534.67 682.59 L544.44 682.06 L554.22 681 L564 681" stroke="#cc4450" stroke-width="1.2" fill="none" stroke-dasharray="3 2.3"/>
<path d="M476 678.97 L485.78 678.97 L495.56 679.94 L505.33 679.59 L515.11 681 L524.89 679.59 L534.67 679.94 L544.44 679.94 L554.22 679.32 L564 679.32" stroke="#3434b4" stroke-width="1.35" fill="none"/>
<rect x="476" y="644.52" width="88" height="53" fill="none" stroke="#000" stroke-width="1.4"/>
<text x="585.59" y="639.92" font-family="Liberation Sans, sans-serif" font-size="6.2" fill="#1a1a1a" stroke="#1a1a1a" stroke-width="0.05" textLength="102.12" lengthAdjust="spacing">Response of VPIL to L_CSR_SA</text>
<path d="M588.3 644.52h-2M588.3 653.35h-2M588.3 662.19h-2M588.3 671.02h-2M588.3 679.85h-2M588.3 688.69h-2M588.3 697.52h-2M588.3 697.52v2.5M598.08 697.52v2.5M607.86 697.52v2.5M617.63 697.52v2.5M627.41 697.52v2.5M637.19 697.52v2.5M646.97 697.52v2.5M656.74 697.52v2.5M666.52 697.52v2.5M676.3 697.52v2.5" stroke="#000" stroke-width="1" fill="none"/>
<g font-family="Liberation Sans, sans-serif" font-size="3.4" fill="#4a4a4a">
<text x="585.8" y="645.52" text-anchor="end">8</text>
<text x="585.8" y="654.35" text-anchor="end">6</text>
<text x="585.8" y="663.19" text-anchor="end">4</text>
<text x="585.8" y="672.02" text-anchor="end">2</text>
<text x="585.8" y="680.85" text-anchor="end">0</text>
<text x="585.8" y="689.69" text-anchor="end">-2</text>
<text x="585.8" y="698.52" text-anchor="end">-4</text>
<text x="588.3" y="703.02" text-anchor="middle">1</text>
<text x="598.08" y="703.02" text-anchor="middle">2</text>
<text x="607.86" y="703.02" text-anchor="middle">3</text>
<text x="617.63" y="703.02" text-anchor="middle">4</text>
<text x="627.41" y="703.02" text-anchor="middle">5</text>
<text x="637.19" y="703.02" text-anchor="middle">6</text>
<text x="646.97" y="703.02" text-anchor="middle">7</text>
<text x="656.74" y="703.02" text-anchor="middle">8</text>
<text x="666.52" y="703.02" text-anchor="middle">9</text>
<text x="676.3" y="703.02" text-anchor="middle">10</text>
</g>
<path d="M588.3 679.85H676.3" stroke="#505050" stroke-width="1.3"/>
<path d="M588.3 673.4 L598.08 675.88 L607.86 677.47 L617.63 676.85 L627.41 674.2 L637.19 678.35 L646.97 677.91 L656.74 676.85 L666.52 676.23 L676.3 676.85" stroke="#cc4450" stroke-width="1.2" fill="none" stroke-dasharray="3 2.3"/>
<path d="M588.3 681 L598.08 683.65 L607.86 686.12 L617.63 685.68 L627.41 682.59 L637.19 685.68 L646.97 684.09 L656.74 682.59 L666.52 681.62 L676.3 681.62" stroke="#cc4450" stroke-width="1.2" fill="none" stroke-dasharray="3 2.3"/>
<path d="M588.3 677.47 L598.08 679.59 L607.86 681.62 L617.63 681.62 L627.41 678.53 L637.19 682.06 L646.97 680.38 L656.74 679.59 L666.52 678.97 L676.3 679.32" stroke="#3434b4" stroke-width="1.35" fill="none"/>
<rect x="588.3" y="644.52" width="88" height="53" fill="none" stroke="#000" stroke-width="1.4"/>
<text x="701.41" y="639.92" font-family="Liberation Sans, sans-serif" font-size="6.2" fill="#1a1a1a" stroke="#1a1a1a" stroke-width="0.05" textLength="95.09" lengthAdjust="spacing">Response of VPIL to IPCL_SA</text>
<path d="M700.6 644.52h-2M700.6 653.35h-2M700.6 662.19h-2M700.6 671.02h-2M700.6 679.85h-2M700.6 688.69h-2M700.6 697.52h-2M700.6 697.52v2.5M710.38 697.52v2.5M720.16 697.52v2.5M729.93 697.52v2.5M739.71 697.52v2.5M749.49 697.52v2.5M759.27 697.52v2.5M769.04 697.52v2.5M778.82 697.52v2.5M788.6 697.52v2.5" stroke="#000" stroke-width="1" fill="none"/>
<g font-family="Liberation Sans, sans-serif" font-size="3.4" fill="#4a4a4a">
<text x="698.1" y="645.52" text-anchor="end">8</text>
<text x="698.1" y="654.35" text-anchor="end">6</text>
<text x="698.1" y="663.19" text-anchor="end">4</text>
<text x="698.1" y="672.02" text-anchor="end">2</text>
<text x="698.1" y="680.85" text-anchor="end">0</text>
<text x="698.1" y="689.69" text-anchor="end">-2</text>
<text x="698.1" y="698.52" text-anchor="end">-4</text>
<text x="700.6" y="703.02" text-anchor="middle">1</text>
<text x="710.38" y="703.02" text-anchor="middle">2</text>
<text x="720.16" y="703.02" text-anchor="middle">3</text>
<text x="729.93" y="703.02" text-anchor="middle">4</text>
<text x="739.71" y="703.02" text-anchor="middle">5</text>
<text x="749.49" y="703.02" text-anchor="middle">6</text>
<text x="759.27" y="703.02" text-anchor="middle">7</text>
<text x="769.04" y="703.02" text-anchor="middle">8</text>
<text x="778.82" y="703.02" text-anchor="middle">9</text>
<text x="788.6" y="703.02" text-anchor="middle">10</text>
</g>
<path d="M700.6 679.85H788.6" stroke="#505050" stroke-width="1.3"/>
<path d="M700.6 678.97 L710.38 674.47 L720.16 672.79 L729.93 674.82 L739.71 677.47 L749.49 677.47 L759.27 676.85 L769.04 676.85 L778.82 674.82 L788.6 676.23" stroke="#cc4450" stroke-width="1.2" fill="none" stroke-dasharray="3 2.3"/>
<path d="M700.6 687.71 L710.38 684.09 L720.16 682.59 L729.93 684.09 L739.71 686.57 L749.49 686.57 L759.27 684.45 L769.04 682.41 L778.82 679.94 L788.6 681" stroke="#cc4450" stroke-width="1.2" fill="none" stroke-dasharray="3 2.3"/>
<path d="M700.6 683.65 L710.38 679.59 L720.16 677.91 L729.93 679.59 L739.71 682.06 L749.49 682.41 L759.27 681 L769.04 680.38 L778.82 677.91 L788.6 678.97" stroke="#3434b4" stroke-width="1.35" fill="none"/>
<rect x="700.6" y="644.52" width="88" height="53" fill="none" stroke="#000" stroke-width="1.4"/>
<text x="820.54" y="639.92" font-family="Liberation Sans, sans-serif" font-size="6.2" fill="#1a1a1a" stroke="#1a1a1a" stroke-width="0.05" textLength="81.41" lengthAdjust="spacing">Response of VPIL to VPIL</text>
<path d="M812.9 644.52h-2M812.9 653.35h-2M812.9 662.19h-2M812.9 671.02h-2M812.9 679.85h-2M812.9 688.69h-2M812.9 697.52h-2M812.9 697.52v2.5M822.68 697.52v2.5M832.46 697.52v2.5M842.23 697.52v2.5M852.01 697.52v2.5M861.79 697.52v2.5M871.57 697.52v2.5M881.34 697.52v2.5M891.12 697.52v2.5M900.9 697.52v2.5" stroke="#000" stroke-width="1" fill="none"/>
<g font-family="Liberation Sans, sans-serif" font-size="3.4" fill="#4a4a4a">
<text x="810.4" y="645.52" text-anchor="end">8</text>
<text x="810.4" y="654.35" text-anchor="end">6</text>
<text x="810.4" y="663.19" text-anchor="end">4</text>
<text x="810.4" y="672.02" text-anchor="end">2</text>
<text x="810.4" y="680.85" text-anchor="end">0</text>
<text x="810.4" y="689.69" text-anchor="end">-2</text>
<text x="810.4" y="698.52" text-anchor="end">-4</text>
<text x="812.9" y="703.02" text-anchor="middle">1</text>
<text x="822.68" y="703.02" text-anchor="middle">2</text>
<text x="832.46" y="703.02" text-anchor="middle">3</text>
<text x="842.23" y="703.02" text-anchor="middle">4</text>
<text x="852.01" y="703.02" text-anchor="middle">5</text>
<text x="861.79" y="703.02" text-anchor="middle">6</text>
<text x="871.57" y="703.02" text-anchor="middle">7</text>
<text x="881.34" y="703.02" text-anchor="middle">8</text>
<text x="891.12" y="703.02" text-anchor="middle">9</text>
<text x="900.9" y="703.02" text-anchor="middle">10</text>
</g>
<path d="M812.9 679.85H900.9" stroke="#505050" stroke-width="1.3"/>
<path d="M812.9 651.14 L822.68 684.53 L832.46 681.88 L842.23 679.15 L852.01 670.05 L861.79 674.55 L871.57 674.29 L881.34 675.88 L891.12 677.03 L900.9 678.09" stroke="#cc4450" stroke-width="1.2" fill="none" stroke-dasharray="3 2.3"/>
<path d="M812.9 651.14 L822.68 693.63 L832.46 690.98 L842.23 688.33 L852.01 679.5 L861.79 684.53 L871.57 683.48 L881.34 684.53 L891.12 684.53 L900.9 684.53" stroke="#cc4450" stroke-width="1.2" fill="none" stroke-dasharray="3 2.3"/>
<path d="M812.9 651.14 L822.68 689.39 L832.46 686.65 L842.23 684.53 L852.01 674.82 L861.79 679.15 L871.57 678.62 L881.34 680.21 L891.12 680.21 L900.9 681.27" stroke="#3434b4" stroke-width="1.35" fill="none"/>
<rect x="812.9" y="644.52" width="88" height="53" fill="none" stroke="#000" stroke-width="1.4"/>
</svg></body></html>
